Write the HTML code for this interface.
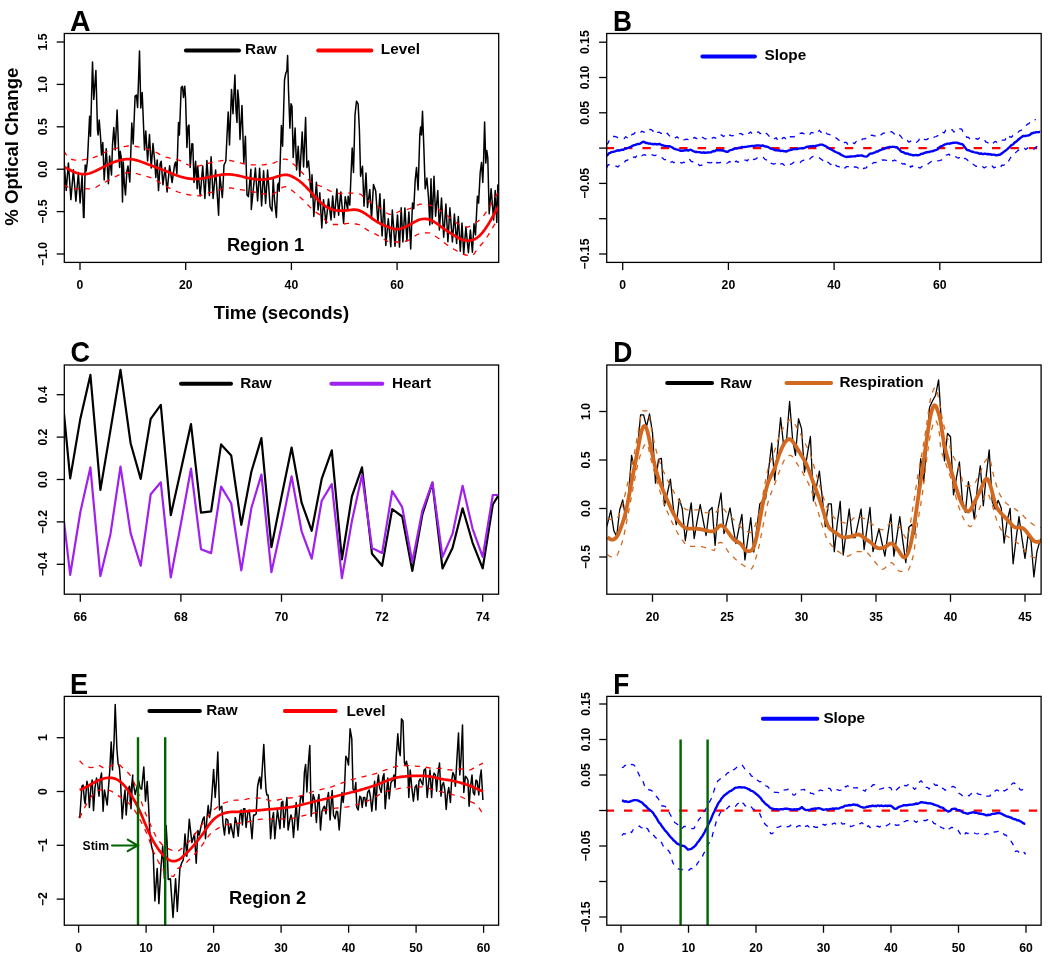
<!DOCTYPE html>
<html><head><meta charset="utf-8"><style>html,body{margin:0;padding:0;background:#fff;}svg{display:block;will-change:transform;}</style></head>
<body><svg width="1050" height="959" viewBox="0 0 1050 959" font-family='"Liberation Sans", sans-serif'><defs><clipPath id="cA"><rect x="64.3" y="33.5" width="434.40" height="228.90"/></clipPath><clipPath id="cB"><rect x="606.7" y="33.5" width="434.50" height="228.90"/></clipPath><clipPath id="cC"><rect x="64.3" y="365.0" width="434.30" height="229.20"/></clipPath><clipPath id="cD"><rect x="606.8" y="365.0" width="434.30" height="229.20"/></clipPath><clipPath id="cE"><rect x="64.3" y="696.4" width="434.30" height="228.80"/></clipPath><clipPath id="cF"><rect x="606.8" y="696.4" width="434.30" height="228.80"/></clipPath></defs>
<g clip-path="url(#cA)">
<polyline points="60.0,162.6 62.5,193.9 64.2,162.7 66.2,190.4 68.4,162.9 70.9,199.6 73.4,169.7 75.9,201.3 78.4,172.5 80.1,203.0 82.1,175.2 83.5,217.6 84.0,217.5 85.2,165.0 86.2,171.0 87.5,160.0 89.6,116.3 90.5,136.3 92.5,61.9 93.8,99.4 95.9,70.6 97.5,130.0 98.1,135.0 99.2,120.0 100.5,136.3 101.5,155.0 102.8,142.5 104.2,180.0 106.2,148.8 108.4,183.8 109.6,156.0 111.5,175.0 112.5,145.0 113.8,127.5 115.2,150.0 117.1,110.0 118.8,155.0 119.6,167.5 120.2,151.3 121.5,158.8 122.5,201.9 123.3,162.0 124.3,183.0 125.5,195.0 126.8,172.0 128.0,166.0 129.8,182.0 131.8,123.0 133.2,144.0 135.1,96.0 136.4,95.0 137.6,107.5 139.5,51.0 140.8,108.0 142.2,92.5 143.5,125.0 144.5,150.0 145.8,131.0 147.6,161.0 149.5,134.5 151.2,168.0 153.0,143.5 154.8,162.5 155.8,177.5 157.2,160.0 158.5,190.6 160.1,163.8 161.2,161.2 162.9,184.8 165.1,167.6 167.1,191.9 169.6,165.8 172.1,182.6 174.6,164.7 175.6,161.9 176.9,173.8 178.5,122.5 179.4,135.0 181.2,87.5 182.5,86.2 183.5,97.5 184.8,86.2 185.6,99.0 186.9,147.5 188.1,126.2 189.0,125.0 190.2,167.5 191.9,143.8 192.8,144.0 194.0,182.5 195.6,161.2 197.2,188.8 197.7,166.4 200.2,196.0 202.7,165.9 204.9,198.4 206.9,160.6 209.4,195.4 211.1,156.8 213.1,198.5 215.6,169.9 218.6,215.3 219.8,174.8 222.3,197.6 222.8,190.0 224.0,165.0 225.8,161.2 227.0,136.0 228.2,111.9 229.5,145.0 231.5,89.4 233.0,113.8 234.9,75.0 236.0,110.0 237.0,122.5 237.8,90.0 238.8,101.0 240.0,139.4 242.0,105.6 243.8,163.1 245.4,136.2 247.0,195.0 248.4,196.6 250.9,169.3 251.3,209.6 255.4,168.0 257.6,201.0 259.6,168.2 261.6,205.9 263.6,170.7 265.6,203.5 267.6,170.1 270.1,206.6 272.0,211.0 273.2,178.8 274.5,200.0 276.4,217.5 277.6,185.0 278.5,183.0 279.2,191.2 281.4,125.6 282.6,146.2 284.5,80.0 285.8,73.1 286.8,71.0 287.6,55.6 288.5,90.0 289.9,128.1 291.0,103.8 292.0,106.2 293.2,157.5 295.1,128.1 296.6,170.0 298.2,146.2 299.8,176.2 302.2,132.0 303.6,167.0 305.6,117.5 306.9,167.5 308.5,161.0 309.5,172.5 311.0,197.5 312.0,174.8 313.8,216.4 316.4,182.2 318.1,210.0 319.8,192.8 321.8,227.9 323.5,199.8 326.0,223.5 328.5,198.9 331.0,219.9 332.7,195.9 334.4,217.5 336.9,188.9 338.6,215.2 340.8,191.9 343.6,223.3 345.2,196.8 347.7,210.2 348.1,196.2 349.8,205.0 351.0,175.0 352.2,148.1 353.5,172.5 355.0,115.0 356.5,101.2 358.1,103.8 359.4,130.0 360.6,176.2 362.5,166.2 364.0,206.2 366.0,173.1 367.5,207.5 369.8,189.4 371.5,218.8 373.5,184.4 375.7,191.0 377.9,222.8 379.9,193.8 382.1,236.0 384.1,199.4 385.8,245.4 388.3,218.7 390.8,246.7 392.3,209.9 395.0,246.2 397.5,214.9 399.5,247.1 401.2,207.7 402.9,241.9 404.9,207.9 406.9,241.0 408.9,212.0 410.7,248.9 412.5,203.1 413.8,208.8 415.2,180.0 416.5,167.5 418.1,190.0 419.8,135.0 420.6,126.9 421.5,135.0 422.5,111.2 423.8,146.0 425.2,188.8 426.9,178.1 428.5,197.5 429.8,225.0 431.0,178.8 432.2,223.8 434.0,176.2 435.6,216.2 437.8,190.6 439.4,230.0 441.5,198.1 443.7,237.3 445.9,203.9 447.9,241.8 449.9,207.8 452.4,241.9 454.4,214.0 456.6,243.5 458.3,216.5 460.3,251.2 462.0,223.0 463.7,253.9 465.9,227.3 468.4,252.8 470.4,230.0 472.4,252.3 474.0,223.8 475.5,235.0 477.4,196.2 478.6,203.1 480.2,172.5 481.5,162.5 482.8,182.5 483.6,160.0 484.6,121.9 485.8,163.1 486.8,150.6 487.8,158.0 489.2,213.8 491.1,188.8 492.3,203.0 493.6,220.0 495.2,190.6 496.8,222.5 497.8,185.0 499.0,190.0 499.4,187.1" fill="none" stroke="#000" stroke-width="1.5" stroke-linejoin="round"/>
<polyline points="64.0,151.1 66.0,154.3 68.0,157.0 70.0,158.8 72.0,159.5 74.0,159.9 76.0,160.2 78.0,160.3 80.0,160.2 82.0,160.0 84.0,159.7 86.0,159.3 88.0,159.0 90.0,158.5 92.0,157.9 94.0,157.3 96.0,156.6 98.0,155.9 100.0,155.0 102.0,154.0 104.0,152.8 106.0,151.7 108.0,150.7 110.0,149.9 112.0,149.3 114.0,148.8 116.0,148.3 118.0,147.9 120.0,147.5 122.0,147.1 124.0,146.7 126.0,146.3 128.0,146.0 130.0,145.9 132.0,145.9 134.0,146.1 136.0,146.5 138.0,146.9 140.0,147.3 142.0,147.7 144.0,148.2 146.0,148.7 148.0,149.3 150.0,149.9 152.0,150.6 154.0,151.4 156.0,152.3 158.0,153.4 160.0,154.6 162.0,155.7 164.0,156.6 166.0,157.2 168.0,157.7 170.0,158.2 172.0,158.6 174.0,159.0 176.0,159.4 178.0,159.9 180.0,160.6 182.0,161.7 184.0,162.9 186.0,164.0 188.0,164.8 190.0,165.2 192.0,165.6 194.0,165.8 196.0,166.0 198.0,166.0 200.0,165.7 202.0,165.2 204.0,164.5 206.0,163.9 208.0,163.4 210.0,162.8 212.0,162.3 214.0,161.8 216.0,161.4 218.0,161.1 220.0,160.9 222.0,160.6 224.0,160.4 226.0,160.3 228.0,160.3 230.0,160.5 232.0,160.9 234.0,161.4 236.0,161.9 238.0,162.4 240.0,162.9 242.0,163.4 244.0,163.9 246.0,164.4 248.0,164.7 250.0,164.9 252.0,164.9 254.0,164.9 256.0,164.9 258.0,164.9 260.0,164.9 262.0,164.9 264.0,164.8 266.0,164.5 268.0,164.2 270.0,163.9 272.0,163.5 274.0,162.8 276.0,162.0 278.0,161.1 280.0,160.3 282.0,159.6 284.0,159.2 286.0,159.2 288.0,160.0 290.0,161.3 292.0,163.0 294.0,164.6 296.0,166.3 298.0,168.2 300.0,170.4 302.0,172.5 304.0,174.6 306.0,176.8 308.0,179.1 310.0,181.2 312.0,182.8 314.0,183.9 316.0,184.7 318.0,185.3 320.0,186.0 322.0,186.7 324.0,187.7 326.0,188.8 328.0,189.9 330.0,190.9 332.0,191.6 334.0,192.3 336.0,192.9 338.0,193.3 340.0,193.5 342.0,193.5 344.0,193.4 346.0,193.2 348.0,193.1 350.0,193.1 352.0,193.1 354.0,193.2 356.0,193.3 358.0,193.5 360.0,194.0 362.0,195.3 364.0,197.2 366.0,199.1 368.0,200.6 370.0,201.9 372.0,203.2 374.0,204.4 376.0,205.6 378.0,206.9 380.0,208.3 382.0,209.9 384.0,211.4 386.0,212.7 388.0,213.8 390.0,214.4 392.0,214.4 394.0,213.9 396.0,213.0 398.0,212.0 400.0,211.1 402.0,210.6 404.0,210.1 406.0,209.7 408.0,209.2 410.0,208.6 412.0,207.7 414.0,206.7 416.0,205.6 418.0,204.8 420.0,204.2 422.0,204.2 424.0,204.3 426.0,204.5 428.0,204.9 430.0,205.2 432.0,205.8 434.0,206.7 436.0,207.8 438.0,209.0 440.0,210.3 442.0,211.6 444.0,213.2 446.0,214.8 448.0,216.3 450.0,217.9 452.0,219.5 454.0,221.2 456.0,222.6 458.0,223.8 460.0,224.8 462.0,225.8 464.0,226.6 466.0,227.0 468.0,227.0 470.0,226.1 472.0,224.8 474.0,223.6 476.0,222.4 478.0,221.2 480.0,219.7 482.0,217.8 484.0,215.2 486.0,212.3 488.0,209.3 490.0,206.1 492.0,202.7 494.0,199.2 496.0,195.9 498.0,192.5 500.0,189.2 501.4,186.9" fill="none" stroke="#f00" stroke-width="1.3" stroke-linejoin="round" stroke-dasharray="5.2,5.8"/>
<polyline points="64.0,184.4 66.0,185.9 68.0,187.2 70.0,188.2 72.0,188.8 74.0,188.9 76.0,188.8 78.0,188.7 80.0,188.6 82.0,188.5 84.0,188.5 86.0,188.6 88.0,188.8 90.0,188.9 92.0,188.9 94.0,188.4 96.0,187.3 98.0,186.0 100.0,184.7 102.0,183.7 104.0,182.7 106.0,181.7 108.0,180.7 110.0,179.7 112.0,178.6 114.0,177.5 116.0,176.3 118.0,175.3 120.0,174.4 122.0,173.9 124.0,173.4 126.0,172.9 128.0,172.6 130.0,172.5 132.0,172.5 134.0,172.9 136.0,173.4 138.0,174.0 140.0,174.6 142.0,175.2 144.0,175.7 146.0,176.3 148.0,176.8 150.0,177.4 152.0,178.1 154.0,178.9 156.0,180.0 158.0,181.4 160.0,182.8 162.0,184.1 164.0,185.2 166.0,186.3 168.0,187.4 170.0,188.4 172.0,189.4 174.0,190.4 176.0,191.2 178.0,192.0 180.0,192.6 182.0,193.2 184.0,193.8 186.0,194.2 188.0,194.6 190.0,195.0 192.0,195.3 194.0,195.6 196.0,195.8 198.0,195.8 200.0,195.5 202.0,195.0 204.0,194.3 206.0,193.7 208.0,193.2 210.0,192.7 212.0,192.2 214.0,191.7 216.0,191.2 218.0,190.5 220.0,189.7 222.0,189.0 224.0,188.3 226.0,187.9 228.0,187.8 230.0,188.0 232.0,188.2 234.0,188.6 236.0,188.9 238.0,189.3 240.0,189.6 242.0,189.9 244.0,190.2 246.0,190.5 248.0,190.9 250.0,191.2 252.0,191.6 254.0,192.0 256.0,192.4 258.0,192.9 260.0,193.3 262.0,193.6 264.0,193.9 266.0,194.2 268.0,194.5 270.0,194.7 272.0,194.5 274.0,193.7 276.0,192.3 278.0,190.7 280.0,189.0 282.0,187.7 284.0,186.8 286.0,186.7 288.0,187.5 290.0,188.9 292.0,190.5 294.0,192.1 296.0,193.7 298.0,195.3 300.0,197.1 302.0,199.0 304.0,200.9 306.0,202.9 308.0,205.0 310.0,207.1 312.0,209.0 314.0,210.7 316.0,212.2 318.0,213.6 320.0,215.0 322.0,216.6 324.0,218.6 326.0,220.9 328.0,223.0 330.0,224.3 332.0,224.5 334.0,224.5 336.0,224.5 338.0,224.5 340.0,224.5 342.0,224.3 344.0,224.0 346.0,223.7 348.0,223.4 350.0,223.3 352.0,223.4 354.0,223.7 356.0,224.0 358.0,224.4 360.0,225.0 362.0,226.2 364.0,227.6 366.0,229.1 368.0,230.4 370.0,231.4 372.0,232.4 374.0,233.4 376.0,234.4 378.0,235.4 380.0,236.6 382.0,238.0 384.0,239.3 386.0,240.5 388.0,241.4 390.0,241.9 392.0,242.0 394.0,242.0 396.0,242.0 398.0,242.0 400.0,242.0 402.0,241.9 404.0,241.5 406.0,241.0 408.0,240.3 410.0,239.5 412.0,238.3 414.0,236.8 416.0,235.3 418.0,234.2 420.0,233.7 422.0,233.4 424.0,233.1 426.0,232.9 428.0,232.8 430.0,233.2 432.0,234.2 434.0,235.4 436.0,236.7 438.0,238.0 440.0,239.4 442.0,241.0 444.0,242.6 446.0,244.1 448.0,245.5 450.0,246.8 452.0,248.0 454.0,249.2 456.0,250.4 458.0,251.5 460.0,252.7 462.0,253.7 464.0,254.5 466.0,255.0 468.0,255.4 470.0,255.7 472.0,255.7 474.0,254.1 476.0,251.2 478.0,248.3 480.0,246.0 482.0,243.8 484.0,241.4 486.0,238.7 488.0,235.5 490.0,232.0 492.0,228.6 494.0,225.4 496.0,222.3 498.0,219.3 500.0,216.4 501.4,214.5" fill="none" stroke="#f00" stroke-width="1.3" stroke-linejoin="round" stroke-dasharray="5.2,5.8"/>
<polyline points="64.0,167.1 65.0,167.5 66.0,167.9 67.0,168.4 68.0,168.9 69.0,169.4 70.0,170.0 71.0,170.5 72.0,171.0 73.0,171.5 74.0,171.9 75.0,172.3 76.0,172.7 77.0,173.0 78.0,173.3 79.0,173.6 80.0,173.8 81.0,174.0 82.0,174.1 83.0,174.2 84.0,174.2 85.0,174.2 86.0,174.1 87.0,173.9 88.0,173.7 89.0,173.5 90.0,173.2 91.0,172.8 92.0,172.5 93.0,172.1 94.0,171.6 95.0,171.2 96.0,170.7 97.0,170.2 98.0,169.7 99.0,169.2 100.0,168.7 101.0,168.2 102.0,167.7 103.0,167.1 104.0,166.6 105.0,166.1 106.0,165.6 107.0,165.2 108.0,164.7 109.0,164.2 110.0,163.8 111.0,163.3 112.0,162.9 113.0,162.5 114.0,162.1 115.0,161.7 116.0,161.4 117.0,161.1 118.0,160.8 119.0,160.5 120.0,160.2 121.0,160.0 122.0,159.8 123.0,159.6 124.0,159.4 125.0,159.3 126.0,159.2 127.0,159.1 128.0,159.1 129.0,159.1 130.0,159.1 131.0,159.2 132.0,159.3 133.0,159.5 134.0,159.6 135.0,159.9 136.0,160.1 137.0,160.4 138.0,160.7 139.0,161.0 140.0,161.3 141.0,161.7 142.0,162.0 143.0,162.4 144.0,162.8 145.0,163.1 146.0,163.5 147.0,163.9 148.0,164.3 149.0,164.7 150.0,165.0 151.0,165.4 152.0,165.8 153.0,166.2 154.0,166.6 155.0,166.9 156.0,167.3 157.0,167.7 158.0,168.1 159.0,168.4 160.0,168.8 161.0,169.2 162.0,169.6 163.0,170.0 164.0,170.3 165.0,170.7 166.0,171.1 167.0,171.5 168.0,171.9 169.0,172.4 170.0,172.8 171.0,173.2 172.0,173.6 173.0,174.0 174.0,174.4 175.0,174.8 176.0,175.1 177.0,175.5 178.0,175.8 179.0,176.2 180.0,176.5 181.0,176.8 182.0,177.1 183.0,177.3 184.0,177.6 185.0,177.8 186.0,178.1 187.0,178.2 188.0,178.4 189.0,178.6 190.0,178.7 191.0,178.8 192.0,178.9 193.0,179.0 194.0,179.0 195.0,179.1 196.0,179.1 197.0,179.0 198.0,179.0 199.0,178.9 200.0,178.8 201.0,178.6 202.0,178.5 203.0,178.3 204.0,178.2 205.0,178.0 206.0,177.8 207.0,177.6 208.0,177.4 209.0,177.2 210.0,176.9 211.0,176.7 212.0,176.5 213.0,176.3 214.0,176.1 215.0,175.9 216.0,175.7 217.0,175.5 218.0,175.3 219.0,175.1 220.0,175.0 221.0,174.8 222.0,174.7 223.0,174.6 224.0,174.5 225.0,174.4 226.0,174.3 227.0,174.3 228.0,174.3 229.0,174.3 230.0,174.4 231.0,174.5 232.0,174.6 233.0,174.7 234.0,174.9 235.0,175.0 236.0,175.2 237.0,175.4 238.0,175.6 239.0,175.8 240.0,176.1 241.0,176.3 242.0,176.5 243.0,176.8 244.0,177.1 245.0,177.3 246.0,177.6 247.0,177.8 248.0,178.0 249.0,178.2 250.0,178.4 251.0,178.6 252.0,178.8 253.0,178.9 254.0,179.1 255.0,179.2 256.0,179.3 257.0,179.4 258.0,179.5 259.0,179.5 260.0,179.6 261.0,179.6 262.0,179.6 263.0,179.5 264.0,179.5 265.0,179.4 266.0,179.3 267.0,179.1 268.0,179.0 269.0,178.8 270.0,178.6 271.0,178.4 272.0,178.1 273.0,177.9 274.0,177.6 275.0,177.3 276.0,176.9 277.0,176.6 278.0,176.3 279.0,176.0 280.0,175.7 281.0,175.4 282.0,175.2 283.0,175.0 284.0,174.9 285.0,174.8 286.0,174.8 287.0,174.9 288.0,175.1 289.0,175.3 290.0,175.6 291.0,176.0 292.0,176.5 293.0,177.0 294.0,177.5 295.0,178.1 296.0,178.7 297.0,179.3 298.0,180.0 299.0,180.7 300.0,181.5 301.0,182.3 302.0,183.1 303.0,184.0 304.0,185.0 305.0,185.9 306.0,186.9 307.0,188.0 308.0,189.0 309.0,190.1 310.0,191.2 311.0,192.3 312.0,193.4 313.0,194.5 314.0,195.6 315.0,196.7 316.0,197.7 317.0,198.8 318.0,199.8 319.0,200.8 320.0,201.8 321.0,202.7 322.0,203.6 323.0,204.4 324.0,205.2 325.0,205.9 326.0,206.6 327.0,207.2 328.0,207.8 329.0,208.3 330.0,208.7 331.0,209.1 332.0,209.5 333.0,209.8 334.0,210.0 335.0,210.2 336.0,210.4 337.0,210.5 338.0,210.6 339.0,210.6 340.0,210.6 341.0,210.7 342.0,210.6 343.0,210.6 344.0,210.6 345.0,210.5 346.0,210.4 347.0,210.3 348.0,210.2 349.0,210.1 350.0,210.0 351.0,209.9 352.0,209.8 353.0,209.7 354.0,209.7 355.0,209.7 356.0,209.8 357.0,209.9 358.0,210.1 359.0,210.4 360.0,210.8 361.0,211.2 362.0,211.7 363.0,212.2 364.0,212.8 365.0,213.4 366.0,214.1 367.0,214.8 368.0,215.5 369.0,216.2 370.0,216.9 371.0,217.7 372.0,218.4 373.0,219.1 374.0,219.8 375.0,220.5 376.0,221.1 377.0,221.8 378.0,222.4 379.0,222.9 380.0,223.5 381.0,224.0 382.0,224.4 383.0,224.9 384.0,225.3 385.0,225.7 386.0,226.1 387.0,226.5 388.0,226.9 389.0,227.3 390.0,227.7 391.0,228.1 392.0,228.4 393.0,228.7 394.0,228.9 395.0,229.1 396.0,229.2 397.0,229.2 398.0,229.1 399.0,229.0 400.0,228.8 401.0,228.5 402.0,228.2 403.0,227.9 404.0,227.5 405.0,227.1 406.0,226.6 407.0,226.1 408.0,225.6 409.0,225.1 410.0,224.5 411.0,224.0 412.0,223.4 413.0,222.8 414.0,222.3 415.0,221.7 416.0,221.2 417.0,220.7 418.0,220.2 419.0,219.8 420.0,219.5 421.0,219.3 422.0,219.1 423.0,219.0 424.0,218.9 425.0,218.9 426.0,218.9 427.0,219.1 428.0,219.2 429.0,219.5 430.0,219.8 431.0,220.2 432.0,220.7 433.0,221.2 434.0,221.7 435.0,222.4 436.0,223.0 437.0,223.7 438.0,224.4 439.0,225.1 440.0,225.8 441.0,226.6 442.0,227.3 443.0,228.0 444.0,228.8 445.0,229.5 446.0,230.2 447.0,230.9 448.0,231.6 449.0,232.2 450.0,232.9 451.0,233.5 452.0,234.2 453.0,234.8 454.0,235.4 455.0,236.0 456.0,236.6 457.0,237.2 458.0,237.7 459.0,238.3 460.0,238.8 461.0,239.2 462.0,239.6 463.0,239.9 464.0,240.2 465.0,240.4 466.0,240.5 467.0,240.6 468.0,240.6 469.0,240.6 470.0,240.5 471.0,240.3 472.0,240.1 473.0,239.8 474.0,239.4 475.0,239.0 476.0,238.4 477.0,237.8 478.0,237.0 479.0,236.2 480.0,235.2 481.0,234.2 482.0,233.1 483.0,231.9 484.0,230.6 485.0,229.3 486.0,227.8 487.0,226.3 488.0,224.8 489.0,223.1 490.0,221.4 491.0,219.7 492.0,217.9 493.0,216.1 494.0,214.3 495.0,212.5 496.0,210.7 497.0,209.1 498.0,207.5 499.0,206.1 500.0,204.9 501.0,203.8 501.4,203.0" fill="none" stroke="#f00" stroke-width="2.7" stroke-linejoin="round"/>
</g>
<g clip-path="url(#cB)">
<polyline points="605.6,148.1 1045.0,148.1" fill="none" stroke="#f00" stroke-width="2.3" stroke-linejoin="round" stroke-dasharray="8.4,10"/>
<polyline points="606.6,144.8 608.2,142.9 609.8,138.6 611.4,137.6 613.0,136.5 614.6,136.4 616.2,136.9 617.8,137.6 619.4,138.0 621.0,138.5 622.6,138.2 624.2,138.6 625.8,136.7 627.4,137.7 629.0,134.7 630.6,135.7 632.2,134.4 633.8,134.0 635.4,132.2 637.0,131.8 638.6,132.9 640.2,133.0 641.8,131.1 643.4,132.0 645.0,132.3 646.6,132.2 648.2,129.9 649.8,129.5 651.4,129.6 653.0,131.2 654.6,129.1 656.2,130.2 657.8,132.3 659.4,132.2 661.0,133.4 662.6,132.9 664.2,134.3 665.8,135.0 667.4,133.2 669.0,135.5 670.6,136.6 672.2,136.5 673.8,135.9 675.4,137.9 677.0,136.7 678.6,138.2 680.2,140.1 681.8,139.2 683.4,139.8 685.0,139.7 686.6,139.1 688.2,139.6 689.8,137.7 691.4,137.9 693.0,138.5 694.6,137.3 696.2,138.7 697.8,137.6 699.4,138.7 701.0,139.0 702.6,137.4 704.2,138.3 705.8,139.0 707.4,138.1 709.0,137.0 710.6,138.0 712.2,138.1 713.8,137.4 715.4,138.3 717.0,137.1 718.6,137.6 720.2,135.3 721.8,135.0 723.4,136.6 725.0,135.4 726.6,134.7 728.2,136.5 729.8,134.9 731.4,135.8 733.0,135.6 734.6,135.8 736.2,135.0 737.8,135.1 739.4,133.8 741.0,133.4 742.6,134.8 744.2,133.4 745.8,134.6 747.4,133.6 749.0,133.3 750.6,131.9 752.2,133.9 753.8,132.5 755.4,132.8 757.0,132.3 758.6,131.9 760.2,133.7 761.8,133.0 763.4,131.6 765.0,133.4 766.6,133.5 768.2,135.1 769.8,137.2 771.4,136.6 773.0,138.7 774.6,138.7 776.2,137.7 777.8,140.5 779.4,140.1 781.0,140.7 782.6,138.1 784.2,137.4 785.8,138.8 787.4,137.5 789.0,135.5 790.6,136.9 792.2,136.7 793.8,136.8 795.4,136.0 797.0,134.2 798.6,133.7 800.2,133.4 801.8,133.0 803.4,133.3 805.0,134.7 806.6,133.7 808.2,133.7 809.8,134.4 811.4,132.4 813.0,132.8 814.6,133.5 816.2,134.0 817.8,132.2 819.4,130.3 821.0,132.3 822.6,131.0 824.2,132.9 825.8,132.3 827.4,134.1 829.0,134.4 830.6,134.8 832.2,135.0 833.8,136.1 835.4,137.5 837.0,138.6 838.6,140.0 840.2,141.4 841.8,143.4 843.4,143.3 845.0,142.2 846.6,142.6 848.2,145.1 849.8,144.1 851.4,143.1 853.0,142.9 854.6,143.6 856.2,141.4 857.8,141.6 859.4,141.9 861.0,141.0 862.6,138.8 864.2,138.8 865.8,138.5 867.4,138.5 869.0,136.3 870.6,135.5 872.2,135.2 873.8,135.9 875.4,135.9 877.0,135.4 878.6,134.3 880.2,135.6 881.8,134.1 883.4,133.1 885.0,133.2 886.6,133.5 888.2,133.1 889.8,132.0 891.4,131.6 893.0,132.8 894.6,134.2 896.2,133.8 897.8,135.9 899.4,135.0 901.0,136.5 902.6,138.9 904.2,138.2 905.8,140.1 907.4,140.5 909.0,142.2 910.6,141.1 912.2,141.1 913.8,143.0 915.4,142.8 917.0,142.0 918.6,140.6 920.2,137.3 921.8,137.8 923.4,138.8 925.0,139.6 926.6,139.6 928.2,138.6 929.8,139.6 931.4,138.6 933.0,137.4 934.6,137.0 936.2,136.5 937.8,135.6 939.4,135.8 941.0,134.7 942.6,132.3 944.2,132.9 945.8,130.1 947.4,129.8 949.0,129.9 950.6,130.8 952.2,129.6 953.8,132.0 955.4,131.4 957.0,128.8 958.6,128.7 960.2,128.8 961.8,129.2 963.4,133.0 965.0,134.1 966.6,137.3 968.2,137.2 969.8,138.7 971.4,139.1 973.0,139.5 974.6,138.4 976.2,138.6 977.8,139.3 979.4,137.9 981.0,138.6 982.6,139.7 984.2,139.3 985.8,142.0 987.4,142.4 989.0,143.7 990.6,142.3 992.2,143.7 993.8,142.6 995.4,141.3 997.0,142.6 998.6,141.8 1000.2,139.9 1001.8,140.2 1003.4,140.2 1005.0,140.1 1006.6,137.0 1008.2,138.8 1009.8,136.5 1011.4,137.3 1013.0,135.5 1014.6,135.2 1016.2,133.6 1017.8,132.7 1019.4,130.8 1021.0,130.4 1022.6,129.4 1024.2,127.9 1025.8,125.9 1027.4,124.2 1029.0,123.6 1030.6,121.3 1032.2,121.4 1033.8,120.2 1035.4,119.6 1035.8,119.6" fill="none" stroke="#0000ff" stroke-width="1.3" stroke-linejoin="round" stroke-dasharray="5.2,5.8"/>
<polyline points="606.6,167.9 608.2,164.6 609.8,164.9 611.4,164.9 613.0,165.6 614.6,166.1 616.2,166.2 617.8,167.0 619.4,165.4 621.0,164.2 622.6,163.9 624.2,162.6 625.8,160.5 627.4,160.3 629.0,158.2 630.6,158.8 632.2,158.2 633.8,156.9 635.4,157.6 637.0,155.4 638.6,156.3 640.2,155.0 641.8,155.8 643.4,154.8 645.0,154.7 646.6,155.8 648.2,154.7 649.8,154.3 651.4,154.6 653.0,155.1 654.6,155.6 656.2,155.1 657.8,156.5 659.4,156.7 661.0,157.5 662.6,158.0 664.2,159.6 665.8,159.7 667.4,159.2 669.0,161.1 670.6,162.3 672.2,161.5 673.8,162.8 675.4,161.6 677.0,162.4 678.6,162.3 680.2,162.4 681.8,163.2 683.4,162.2 685.0,162.6 686.6,160.9 688.2,159.1 689.8,159.6 691.4,161.5 693.0,161.8 694.6,162.3 696.2,163.7 697.8,163.2 699.4,165.5 701.0,165.3 702.6,164.7 704.2,164.0 705.8,164.3 707.4,162.5 709.0,162.6 710.6,162.9 712.2,162.3 713.8,161.4 715.4,163.9 717.0,162.5 718.6,162.8 720.2,162.5 721.8,162.4 723.4,162.7 725.0,163.8 726.6,163.5 728.2,162.5 729.8,161.4 731.4,163.4 733.0,161.8 734.6,162.5 736.2,160.9 737.8,162.3 739.4,161.3 741.0,161.3 742.6,160.7 744.2,160.1 745.8,160.1 747.4,160.8 749.0,158.3 750.6,158.6 752.2,157.8 753.8,159.5 755.4,159.2 757.0,157.9 758.6,158.3 760.2,158.8 761.8,158.7 763.4,157.4 765.0,159.3 766.6,160.0 768.2,159.7 769.8,163.0 771.4,163.4 773.0,164.0 774.6,163.8 776.2,163.3 777.8,165.3 779.4,164.6 781.0,163.9 782.6,163.6 784.2,165.2 785.8,163.7 787.4,163.9 789.0,163.9 790.6,164.3 792.2,163.6 793.8,162.2 795.4,163.1 797.0,162.6 798.6,162.4 800.2,162.5 801.8,160.9 803.4,160.3 805.0,159.7 806.6,159.6 808.2,158.2 809.8,159.0 811.4,157.4 813.0,156.5 814.6,156.0 816.2,156.7 817.8,157.0 819.4,157.9 821.0,159.1 822.6,160.2 824.2,161.8 825.8,163.2 827.4,161.8 829.0,163.0 830.6,164.6 832.2,163.8 833.8,166.0 835.4,164.6 837.0,166.4 838.6,166.5 840.2,167.3 841.8,165.7 843.4,166.6 845.0,168.0 846.6,166.6 848.2,166.6 849.8,167.5 851.4,168.2 853.0,166.9 854.6,167.0 856.2,167.0 857.8,167.9 859.4,168.7 861.0,167.5 862.6,169.2 864.2,168.1 865.8,168.1 867.4,166.4 869.0,166.1 870.6,165.9 872.2,163.7 873.8,162.5 875.4,162.7 877.0,162.3 878.6,162.1 880.2,161.8 881.8,160.2 883.4,160.0 885.0,160.2 886.6,160.4 888.2,160.2 889.8,160.0 891.4,159.4 893.0,161.0 894.6,160.0 896.2,161.0 897.8,162.4 899.4,163.2 901.0,162.5 902.6,164.1 904.2,163.6 905.8,164.7 907.4,163.4 909.0,164.1 910.6,167.2 912.2,165.8 913.8,168.0 915.4,167.4 917.0,167.2 918.6,167.4 920.2,168.1 921.8,166.5 923.4,166.8 925.0,165.7 926.6,164.5 928.2,163.9 929.8,162.6 931.4,161.4 933.0,161.9 934.6,161.7 936.2,161.9 937.8,160.8 939.4,160.6 941.0,160.2 942.6,159.3 944.2,157.9 945.8,155.1 947.4,154.9 949.0,154.2 950.6,155.9 952.2,156.0 953.8,155.3 955.4,156.4 957.0,157.6 958.6,158.1 960.2,157.0 961.8,158.9 963.4,159.6 965.0,158.3 966.6,159.2 968.2,160.8 969.8,161.1 971.4,163.7 973.0,164.2 974.6,165.2 976.2,166.4 977.8,166.1 979.4,166.2 981.0,167.3 982.6,166.6 984.2,167.9 985.8,167.0 987.4,166.2 989.0,167.4 990.6,166.3 992.2,166.0 993.8,167.8 995.4,167.2 997.0,166.8 998.6,167.8 1000.2,167.9 1001.8,165.1 1003.4,165.4 1005.0,164.2 1006.6,161.3 1008.2,161.7 1009.8,159.0 1011.4,156.3 1013.0,155.7 1014.6,153.6 1016.2,152.1 1017.8,150.6 1019.4,149.8 1021.0,149.5 1022.6,149.5 1024.2,147.9 1025.8,149.6 1027.4,148.0 1029.0,148.1 1030.6,149.5 1032.2,149.7 1033.8,149.4 1035.4,147.7 1037.0,146.1 1038.6,143.9 1039.1,144.8" fill="none" stroke="#0000ff" stroke-width="1.3" stroke-linejoin="round" stroke-dasharray="5.2,5.8"/>
<polyline points="606.6,155.8 607.8,154.8 609.0,153.1 610.2,152.9 611.4,152.1 612.6,151.9 613.8,151.7 615.0,151.3 616.2,150.9 617.4,150.5 618.6,150.3 619.8,150.5 621.0,150.0 622.2,149.6 623.4,149.7 624.6,148.9 625.8,148.6 627.0,148.1 628.2,147.9 629.4,147.4 630.6,146.9 631.8,146.2 633.0,145.7 634.2,145.2 635.4,144.8 636.6,144.3 637.8,143.9 639.0,144.1 640.2,143.7 641.4,142.7 642.6,142.0 643.8,141.8 645.0,142.4 646.2,143.1 647.4,143.0 648.6,143.6 649.8,143.4 651.0,143.9 652.2,144.0 653.4,144.3 654.6,143.8 655.8,144.2 657.0,144.2 658.2,144.3 659.4,143.8 660.6,144.5 661.8,145.3 663.0,145.3 664.2,145.9 665.4,145.9 666.6,146.3 667.8,146.3 669.0,146.2 670.2,146.5 671.4,147.0 672.6,147.6 673.8,148.6 675.0,148.9 676.2,149.4 677.4,149.6 678.6,150.0 679.8,150.5 681.0,150.7 682.2,150.8 683.4,150.8 684.6,150.2 685.8,150.4 687.0,150.2 688.2,150.5 689.4,150.1 690.6,149.7 691.8,150.3 693.0,151.1 694.2,151.4 695.4,152.0 696.6,151.8 697.8,152.1 699.0,152.1 700.2,152.3 701.4,152.6 702.6,152.7 703.8,152.3 705.0,152.9 706.2,152.6 707.4,152.4 708.6,152.5 709.8,152.4 711.0,152.4 712.2,151.6 713.4,151.0 714.6,151.3 715.8,150.3 717.0,150.2 718.2,150.3 719.4,150.1 720.6,150.2 721.8,150.6 723.0,150.2 724.2,151.0 725.4,151.3 726.6,151.9 727.8,151.7 729.0,150.8 730.2,150.2 731.4,149.9 732.6,149.6 733.8,148.9 735.0,148.5 736.2,148.6 737.4,148.3 738.6,147.8 739.8,147.9 741.0,147.3 742.2,147.0 743.4,147.1 744.6,147.0 745.8,146.9 747.0,146.7 748.2,146.4 749.4,146.3 750.6,146.1 751.8,146.0 753.0,146.0 754.2,146.1 755.4,145.6 756.6,145.4 757.8,145.5 759.0,145.5 760.2,145.6 761.4,145.9 762.6,145.4 763.8,145.9 765.0,146.5 766.2,146.5 767.4,146.8 768.6,147.4 769.8,147.9 771.0,148.9 772.2,148.9 773.4,149.3 774.6,150.0 775.8,150.2 777.0,150.2 778.2,150.6 779.4,150.2 780.6,151.0 781.8,150.9 783.0,150.8 784.2,151.3 785.4,151.3 786.6,151.5 787.8,150.6 789.0,150.5 790.2,150.0 791.4,149.8 792.6,149.3 793.8,148.9 795.0,149.1 796.2,148.8 797.4,149.0 798.6,148.6 799.8,148.4 801.0,148.4 802.2,148.2 803.4,148.3 804.6,147.9 805.8,147.3 807.0,146.7 808.2,146.6 809.4,146.4 810.6,146.3 811.8,146.5 813.0,145.9 814.2,146.1 815.4,146.0 816.6,145.7 817.8,145.4 819.0,145.1 820.2,144.6 821.4,144.6 822.6,144.8 823.8,145.4 825.0,145.8 826.2,146.5 827.4,147.3 828.6,147.9 829.8,148.9 831.0,149.3 832.2,150.0 833.4,150.7 834.6,151.4 835.8,152.0 837.0,152.5 838.2,153.1 839.4,153.5 840.6,154.5 841.8,155.1 843.0,155.7 844.2,156.3 845.4,156.7 846.6,157.0 847.8,156.7 849.0,156.7 850.2,156.5 851.4,156.5 852.6,156.4 853.8,156.4 855.0,156.3 856.2,156.0 857.4,155.5 858.6,155.8 859.8,155.6 861.0,155.4 862.2,155.5 863.4,156.1 864.6,156.4 865.8,156.6 867.0,156.3 868.2,155.3 869.4,154.1 870.6,153.5 871.8,153.6 873.0,153.2 874.2,152.7 875.4,152.3 876.6,151.5 877.8,151.5 879.0,150.6 880.2,150.1 881.4,149.8 882.6,149.0 883.8,149.1 885.0,148.2 886.2,148.0 887.4,147.4 888.6,147.2 889.8,146.9 891.0,147.1 892.2,146.8 893.4,146.9 894.6,146.9 895.8,147.3 897.0,147.2 898.2,148.6 899.4,149.6 900.6,151.1 901.8,151.9 903.0,152.2 904.2,152.7 905.4,153.5 906.6,153.5 907.8,153.6 909.0,154.4 910.2,154.5 911.4,154.8 912.6,155.2 913.8,155.3 915.0,155.1 916.2,155.0 917.4,155.3 918.6,155.1 919.8,154.8 921.0,153.9 922.2,153.7 923.4,153.6 924.6,152.8 925.8,152.5 927.0,152.2 928.2,152.0 929.4,152.0 930.6,151.4 931.8,151.4 933.0,151.0 934.2,150.6 935.4,150.2 936.6,149.8 937.8,149.2 939.0,147.7 940.2,146.7 941.4,146.1 942.6,145.8 943.8,145.0 945.0,144.4 946.2,144.1 947.4,143.6 948.6,143.6 949.8,143.7 951.0,143.2 952.2,143.1 953.4,142.6 954.6,142.7 955.8,142.6 957.0,142.6 958.2,143.3 959.4,143.5 960.6,144.0 961.8,143.9 963.0,144.7 964.2,146.5 965.4,147.9 966.6,149.6 967.8,150.3 969.0,150.2 970.2,151.0 971.4,151.5 972.6,151.7 973.8,152.1 975.0,152.4 976.2,152.6 977.4,152.7 978.6,153.4 979.8,153.8 981.0,153.3 982.2,154.1 983.4,154.0 984.6,153.7 985.8,153.8 987.0,154.2 988.2,154.0 989.4,154.2 990.6,154.3 991.8,154.9 993.0,154.6 994.2,154.6 995.4,155.1 996.6,155.2 997.8,155.1 999.0,154.6 1000.2,154.7 1001.4,153.6 1002.6,152.9 1003.8,151.9 1005.0,151.0 1006.2,150.1 1007.4,149.1 1008.6,147.9 1009.8,146.8 1011.0,145.5 1012.2,144.7 1013.4,144.1 1014.6,142.6 1015.8,141.9 1017.0,141.0 1018.2,139.6 1019.4,138.9 1020.6,137.7 1021.8,137.0 1023.0,135.9 1024.2,136.0 1025.4,136.0 1026.6,135.6 1027.8,135.5 1029.0,135.3 1030.2,134.6 1031.4,133.4 1032.6,133.2 1033.8,132.6 1035.0,132.6 1036.2,132.1 1037.4,132.1 1038.6,132.2 1039.8,131.9 1040.2,132.0" fill="none" stroke="#0000ff" stroke-width="2.4" stroke-linejoin="round"/>
</g>
<g clip-path="url(#cC)">
<polyline points="60.2,374.2 70.2,478.4 80.3,418.9 90.4,374.9 100.4,489.9 110.5,429.9 120.5,369.8 130.6,443.2 140.7,478.9 150.7,418.9 160.8,404.8 170.8,515.2 180.9,470.0 191.0,424.0 201.0,512.7 211.1,511.4 221.1,444.4 231.2,455.4 241.3,524.9 251.3,472.0 261.4,438.1 271.4,547.2 281.5,496.8 291.6,447.5 301.6,502.7 311.7,530.8 321.7,478.9 331.8,450.3 341.9,559.4 351.9,496.3 362.0,467.4 372.0,553.8 382.1,565.8 392.2,509.1 402.2,516.5 412.3,570.9 422.3,514.7 432.4,482.8 442.5,568.4 452.5,547.9 462.6,508.3 472.6,542.8 482.7,568.4 492.8,504.5 502.8,488.4" fill="none" stroke="#000" stroke-width="2.2" stroke-linejoin="round"/>
<polyline points="60.2,488.9 70.2,574.8 80.3,512.2 90.4,467.4 100.4,576.1 110.5,533.9 120.5,466.7 130.6,533.1 140.7,565.8 150.7,494.3 160.8,482.3 170.8,577.3 180.9,523.7 191.0,468.7 201.0,549.2 211.1,553.1 221.1,486.6 231.2,503.2 241.3,570.4 251.3,508.3 261.4,474.6 271.4,572.2 281.5,526.2 291.6,476.4 301.6,531.3 311.7,558.7 321.7,500.7 331.8,484.1 341.9,578.1 351.9,521.1 362.0,475.1 372.0,547.9 382.1,553.1 392.2,491.2 402.2,507.1 412.3,562.0 422.3,510.9 432.4,482.3 442.5,556.9 452.5,533.9 462.6,485.8 472.6,528.8 482.7,556.9 492.8,495.0 502.8,495.0" fill="none" stroke="#a020f0" stroke-width="2.2" stroke-linejoin="round"/>
</g>
<g clip-path="url(#cD)">
<polyline points="604.8,532.6 607.8,522.7 610.8,510.4 613.8,530.6 616.7,536.5 619.7,509.8 622.7,499.9 625.7,518.7 628.7,493.0 631.6,455.3 634.6,470.2 637.6,447.4 640.6,414.8 643.6,414.8 646.5,426.6 649.5,413.8 652.5,432.6 655.5,483.1 658.5,459.3 661.4,458.3 664.4,505.8 667.4,493.0 670.4,479.1 673.4,508.8 676.3,524.7 679.3,498.9 682.3,508.8 685.3,540.5 688.3,520.7 691.2,502.9 694.2,538.5 697.2,520.7 700.2,504.5 703.2,520.7 706.1,535.5 709.1,510.8 712.1,507.4 715.1,545.4 718.1,508.8 721.0,493.0 724.0,533.6 727.0,520.7 730.0,507.8 733.0,526.6 735.9,543.5 738.9,528.6 741.9,514.4 744.9,559.9 747.9,538.5 750.8,517.7 753.8,552.0 756.8,528.6 759.8,503.9 762.8,500.9 765.7,498.5 768.7,469.2 771.7,443.1 774.7,480.1 777.7,449.4 780.6,417.7 783.6,445.4 786.6,439.5 789.6,401.5 792.6,439.5 795.5,455.3 798.5,418.7 801.5,428.6 804.5,472.2 807.5,453.4 810.4,436.5 813.4,500.9 816.4,487.0 819.4,471.2 822.4,498.9 825.3,526.6 828.3,503.9 831.3,503.9 834.3,551.7 837.3,523.3 840.2,501.4 843.2,555.0 846.2,532.0 849.2,509.0 852.2,537.5 855.1,537.5 858.1,523.3 861.1,509.0 864.1,549.5 867.1,527.7 870.0,507.5 873.0,551.7 876.0,540.8 879.0,528.7 882.0,543.0 884.9,556.1 887.9,534.2 890.9,514.1 893.9,556.1 896.9,536.4 899.8,516.7 902.8,540.8 905.8,562.7 908.8,527.2 911.8,524.4 914.7,534.2 917.7,497.0 920.7,458.7 923.7,481.7 926.7,444.4 929.6,407.2 932.6,400.7 935.6,395.2 938.6,379.9 941.6,424.7 944.5,460.9 947.5,433.5 950.5,436.8 953.5,494.8 956.5,477.3 959.4,462.0 962.4,500.3 965.4,512.3 968.4,481.7 971.4,499.2 974.3,518.9 977.3,488.2 980.3,465.9 983.3,505.8 986.3,475.1 989.2,449.9 992.2,501.4 995.2,509.0 998.2,500.3 1001.2,507.9 1004.1,543.0 1007.1,521.1 1010.1,508.4 1013.1,563.8 1016.1,538.6 1019.0,516.7 1022.0,538.6 1025.0,558.3 1028.0,535.3 1031.0,540.8 1033.9,576.9 1036.9,551.7 1039.9,540.8 1042.9,536.4" fill="none" stroke="#000" stroke-width="1.3" stroke-linejoin="round"/>
<polyline points="607.5,518.7 608.5,519.0 609.5,519.3 610.5,519.4 611.5,519.6 612.5,519.6 613.5,519.7 614.5,519.7 615.5,519.7 616.5,519.4 617.5,518.1 618.5,516.1 619.5,513.4 620.5,510.5 621.5,507.6 622.5,504.6 623.5,501.0 624.5,496.9 625.5,492.6 626.5,488.2 627.5,483.9 628.5,479.8 629.5,475.6 630.5,471.5 631.5,467.2 632.5,462.7 633.5,458.0 634.5,452.9 635.5,447.2 636.5,441.3 637.5,435.5 638.5,430.1 639.5,424.3 640.5,418.1 641.5,413.0 642.5,410.8 643.5,410.8 644.5,410.8 645.5,410.8 646.5,410.8 647.5,410.8 648.5,412.9 649.5,418.1 650.5,424.3 651.5,429.8 652.5,434.4 653.5,439.1 654.5,443.7 655.5,447.9 656.5,451.7 657.5,455.1 658.5,458.2 659.5,461.2 660.5,464.0 661.5,466.7 662.5,469.2 663.5,471.6 664.5,473.8 665.5,476.0 666.5,478.0 667.5,480.0 668.5,481.9 669.5,483.8 670.5,485.6 671.5,487.5 672.5,489.4 673.5,491.3 674.5,493.1 675.5,495.0 676.5,496.7 677.5,498.4 678.5,499.9 679.5,501.3 680.5,502.8 681.5,504.3 682.5,505.8 683.5,507.2 684.5,508.3 685.5,509.2 686.5,509.7 687.5,509.8 688.5,509.8 689.5,509.8 690.5,509.8 691.5,509.8 692.5,509.8 693.5,509.8 694.5,509.8 695.5,509.8 696.5,509.8 697.5,509.8 698.5,509.8 699.5,509.8 700.5,510.1 701.5,510.5 702.5,511.0 703.5,511.6 704.5,512.1 705.5,512.5 706.5,512.7 707.5,512.8 708.5,512.8 709.5,512.8 710.5,512.8 711.5,512.8 712.5,512.8 713.5,512.8 714.5,512.8 715.5,512.6 716.5,511.8 717.5,510.5 718.5,509.0 719.5,507.7 720.5,506.9 721.5,506.9 722.5,507.6 723.5,508.6 724.5,509.9 725.5,511.2 726.5,512.4 727.5,513.4 728.5,514.4 729.5,515.4 730.5,516.4 731.5,517.4 732.5,518.4 733.5,519.4 734.5,520.4 735.5,521.4 736.5,522.5 737.5,523.6 738.5,524.7 739.5,525.8 740.5,526.8 741.5,527.7 742.5,528.5 743.5,529.2 744.5,529.9 745.5,530.5 746.5,531.2 747.5,531.7 748.5,532.2 749.5,532.5 750.5,532.6 751.5,532.2 752.5,531.1 753.5,529.3 754.5,527.1 755.5,524.5 756.5,521.7 757.5,518.9 758.5,515.6 759.5,511.4 760.5,506.7 761.5,501.8 762.5,496.9 763.5,491.9 764.5,486.5 765.5,481.0 766.5,475.7 767.5,471.0 768.5,467.0 769.5,463.8 770.5,461.1 771.5,458.6 772.5,456.2 773.5,453.7 774.5,451.0 775.5,448.0 776.5,444.8 777.5,441.5 778.5,438.3 779.5,435.5 780.5,433.2 781.5,431.2 782.5,429.3 783.5,427.6 784.5,426.0 785.5,424.6 786.5,423.4 787.5,422.0 788.5,420.8 789.5,419.9 790.5,419.7 791.5,420.1 792.5,421.0 793.5,422.1 794.5,423.6 795.5,425.2 796.5,426.9 797.5,428.6 798.5,430.2 799.5,432.0 800.5,433.9 801.5,436.0 802.5,438.2 803.5,440.3 804.5,442.3 805.5,444.2 806.5,446.0 807.5,447.9 808.5,449.9 809.5,452.1 810.5,454.6 811.5,457.6 812.5,460.9 813.5,464.5 814.5,468.1 815.5,471.6 816.5,475.0 817.5,478.4 818.5,481.8 819.5,485.3 820.5,488.6 821.5,491.7 822.5,494.8 823.5,497.8 824.5,500.8 825.5,503.6 826.5,506.1 827.5,508.2 828.5,509.9 829.5,511.5 830.5,513.0 831.5,514.4 832.5,515.7 833.5,516.9 834.5,518.0 835.5,519.0 836.5,519.8 837.5,520.5 838.5,521.0 839.5,521.4 840.5,521.8 841.5,522.1 842.5,522.4 843.5,522.7 844.5,523.0 845.5,523.1 846.5,523.2 847.5,523.3 848.5,523.0 849.5,522.4 850.5,521.5 851.5,520.4 852.5,519.3 853.5,518.2 854.5,517.4 855.5,516.8 856.5,516.7 857.5,516.8 858.5,516.9 859.5,517.1 860.5,517.4 861.5,517.6 862.5,518.0 863.5,518.3 864.5,518.7 865.5,519.1 866.5,519.7 867.5,520.4 868.5,521.2 869.5,522.0 870.5,522.9 871.5,523.8 872.5,524.6 873.5,525.3 874.5,525.9 875.5,526.6 876.5,527.3 877.5,527.9 878.5,528.5 879.5,529.0 880.5,529.5 881.5,529.7 882.5,529.8 883.5,529.6 884.5,529.0 885.5,528.1 886.5,527.0 887.5,525.9 888.5,524.8 889.5,524.0 890.5,523.4 891.5,523.3 892.5,523.4 893.5,523.6 894.5,524.0 895.5,524.5 896.5,525.1 897.5,525.7 898.5,526.5 899.5,527.2 900.5,528.1 901.5,529.7 902.5,531.9 903.5,534.2 904.5,536.3 905.5,537.9 906.5,538.6 907.5,537.6 908.5,534.2 909.5,529.2 910.5,523.1 911.5,516.4 912.5,509.9 913.5,503.9 914.5,497.5 915.5,490.8 916.5,484.0 917.5,477.7 918.5,471.9 919.5,466.5 920.5,461.1 921.5,455.7 922.5,450.0 923.5,444.1 924.5,438.1 925.5,432.0 926.5,425.8 927.5,418.7 928.5,411.3 929.5,404.5 930.5,399.2 931.5,395.6 932.5,392.2 933.5,389.4 934.5,387.8 935.5,387.7 936.5,389.7 937.5,393.2 938.5,397.4 939.5,403.1 940.5,408.9 941.5,414.6 942.5,419.8 943.5,424.2 944.5,427.9 945.5,431.3 946.5,434.5 947.5,437.9 948.5,441.6 949.5,445.4 950.5,449.0 951.5,452.2 952.5,454.7 953.5,456.9 954.5,458.8 955.5,460.5 956.5,462.3 957.5,464.3 958.5,466.5 959.5,469.5 960.5,473.3 961.5,477.3 962.5,481.0 963.5,484.0 964.5,485.8 965.5,486.0 966.5,486.0 967.5,486.0 968.5,486.0 969.5,486.0 970.5,486.0 971.5,486.0 972.5,485.8 973.5,484.9 974.5,483.6 975.5,482.0 976.5,480.2 977.5,478.4 978.5,476.7 979.5,474.5 980.5,471.9 981.5,469.2 982.5,466.5 983.5,464.1 984.5,462.3 985.5,460.9 986.5,459.5 987.5,458.4 988.5,457.7 989.5,457.9 990.5,460.8 991.5,465.6 992.5,470.8 993.5,475.2 994.5,478.7 995.5,482.1 996.5,485.5 997.5,488.6 998.5,491.3 999.5,493.7 1000.5,495.6 1001.5,497.3 1002.5,498.8 1003.5,500.2 1004.5,501.4 1005.5,502.5 1006.5,503.5 1007.5,504.3 1008.5,505.0 1009.5,505.7 1010.5,506.3 1011.5,506.9 1012.5,507.5 1013.5,508.2 1014.5,508.8 1015.5,509.4 1016.5,510.1 1017.5,510.7 1018.5,511.4 1019.5,512.1 1020.5,513.0 1021.5,513.9 1022.5,514.9 1023.5,516.0 1024.5,517.1 1025.5,518.2 1026.5,519.3 1027.5,520.2 1028.5,521.1 1029.5,521.8 1030.5,522.6 1031.5,523.3 1032.5,524.0 1033.5,524.7 1034.5,525.3 1035.5,525.8 1036.5,526.3 1037.5,526.6 1038.5,527.0 1039.5,527.2 1040.5,527.5 1041.5,527.6 1041.7,527.7" fill="none" stroke="#d2691e" stroke-width="1.3" stroke-linejoin="round" stroke-dasharray="5.2,5.8"/>
<polyline points="607.5,554.4 608.5,555.4 609.5,556.2 610.5,556.7 611.5,557.0 612.5,557.2 613.5,557.3 614.5,557.3 615.5,557.1 616.5,556.2 617.5,554.5 618.5,552.3 619.5,549.8 620.5,547.0 621.5,544.2 622.5,541.1 623.5,537.2 624.5,532.7 625.5,527.8 626.5,522.7 627.5,517.7 628.5,512.7 629.5,507.4 630.5,501.9 631.5,496.4 632.5,490.9 633.5,485.7 634.5,480.6 635.5,475.4 636.5,470.1 637.5,465.3 638.5,461.0 639.5,457.6 640.5,454.7 641.5,451.9 642.5,449.3 643.5,446.9 644.5,445.1 645.5,443.9 646.5,443.5 647.5,444.7 648.5,448.1 649.5,452.5 650.5,457.3 651.5,461.4 652.5,465.1 653.5,468.9 654.5,472.7 655.5,476.4 656.5,480.0 657.5,483.4 658.5,486.7 659.5,489.9 660.5,493.0 661.5,496.1 662.5,499.1 663.5,501.9 664.5,504.7 665.5,507.3 666.5,509.8 667.5,512.2 668.5,514.6 669.5,516.8 670.5,519.0 671.5,521.1 672.5,523.2 673.5,525.2 674.5,527.1 675.5,529.1 676.5,531.0 677.5,532.8 678.5,534.5 679.5,536.2 680.5,537.6 681.5,538.9 682.5,540.3 683.5,541.7 684.5,543.0 685.5,544.2 686.5,545.2 687.5,545.9 688.5,546.4 689.5,546.4 690.5,546.4 691.5,546.4 692.5,546.4 693.5,546.4 694.5,546.4 695.5,546.4 696.5,546.4 697.5,546.4 698.5,546.4 699.5,546.4 700.5,546.5 701.5,546.7 702.5,546.9 703.5,547.2 704.5,547.4 705.5,547.7 706.5,548.0 707.5,548.3 708.5,548.6 709.5,548.9 710.5,549.3 711.5,549.7 712.5,550.0 713.5,550.3 714.5,550.4 715.5,547.2 716.5,545.3 717.5,544.0 718.5,543.1 719.5,542.7 720.5,542.5 721.5,542.6 722.5,543.2 723.5,544.3 724.5,545.7 725.5,547.3 726.5,549.0 727.5,550.6 728.5,552.0 729.5,553.1 730.5,554.2 731.5,555.3 732.5,556.3 733.5,557.3 734.5,558.3 735.5,559.2 736.5,560.1 737.5,560.9 738.5,561.8 739.5,562.6 740.5,563.4 741.5,564.1 742.5,564.8 743.5,565.5 744.5,566.1 745.5,566.8 746.5,567.4 747.5,568.1 748.5,568.6 749.5,569.0 750.5,569.2 751.5,568.8 752.5,567.4 753.5,565.2 754.5,562.4 755.5,559.3 756.5,555.9 757.5,552.5 758.5,548.7 759.5,544.1 760.5,538.9 761.5,533.6 762.5,528.6 763.5,523.7 764.5,518.7 765.5,513.6 766.5,508.8 767.5,504.4 768.5,500.7 769.5,497.5 770.5,494.8 771.5,492.2 772.5,489.8 773.5,487.3 774.5,484.7 775.5,482.0 776.5,479.2 777.5,476.4 778.5,473.7 779.5,471.2 780.5,468.8 781.5,466.4 782.5,464.0 783.5,461.7 784.5,459.7 785.5,458.1 786.5,457.1 787.5,456.4 788.5,455.8 789.5,455.4 790.5,455.4 791.5,455.8 792.5,456.7 793.5,457.9 794.5,459.4 795.5,461.0 796.5,462.7 797.5,464.3 798.5,465.8 799.5,467.3 800.5,468.9 801.5,470.6 802.5,472.3 803.5,474.1 804.5,475.9 805.5,477.7 806.5,479.6 807.5,481.5 808.5,483.6 809.5,485.8 810.5,488.2 811.5,490.9 812.5,493.9 813.5,497.0 814.5,500.2 815.5,503.4 816.5,506.6 817.5,509.9 818.5,513.4 819.5,516.8 820.5,520.2 821.5,523.4 822.5,526.4 823.5,529.5 824.5,532.5 825.5,535.4 826.5,537.9 827.5,539.9 828.5,541.5 829.5,542.9 830.5,544.2 831.5,545.4 832.5,546.5 833.5,547.5 834.5,548.5 835.5,549.3 836.5,550.1 837.5,550.9 838.5,551.6 839.5,552.3 840.5,553.0 841.5,553.6 842.5,554.3 843.5,554.9 844.5,555.4 845.5,555.8 846.5,556.0 847.5,556.1 848.5,556.0 849.5,555.5 850.5,554.9 851.5,554.2 852.5,553.5 853.5,552.8 854.5,552.2 855.5,551.8 856.5,551.7 857.5,551.7 858.5,551.7 859.5,551.7 860.5,551.7 861.5,551.7 862.5,551.7 863.5,551.7 864.5,551.7 865.5,551.8 866.5,552.2 867.5,553.0 868.5,554.0 869.5,555.2 870.5,556.5 871.5,557.8 872.5,559.1 873.5,560.2 874.5,561.3 875.5,562.5 876.5,563.8 877.5,565.1 878.5,566.4 879.5,567.5 880.5,568.4 881.5,569.0 882.5,569.3 883.5,569.0 884.5,568.4 885.5,567.5 886.5,566.4 887.5,565.3 888.5,564.3 889.5,563.4 890.5,562.8 891.5,562.7 892.5,563.1 893.5,564.1 894.5,565.4 895.5,566.8 896.5,568.3 897.5,569.7 898.5,570.7 899.5,571.3 900.5,571.4 901.5,571.4 902.5,571.4 903.5,571.4 904.5,571.4 905.5,571.4 906.5,571.4 907.5,571.1 908.5,569.8 909.5,567.8 910.5,565.2 911.5,562.0 912.5,558.6 913.5,554.8 914.5,548.4 915.5,540.2 916.5,531.5 917.5,523.7 918.5,517.4 919.5,511.6 920.5,506.0 921.5,499.9 922.5,492.9 923.5,485.0 924.5,476.5 925.5,468.2 926.5,460.7 927.5,453.3 928.5,446.1 929.5,439.6 930.5,434.3 931.5,430.1 932.5,426.1 933.5,422.8 934.5,420.7 935.5,420.5 936.5,421.5 937.5,423.9 938.5,427.9 939.5,434.0 940.5,446.9 941.5,451.9 942.5,455.1 943.5,457.5 944.5,459.7 945.5,462.6 946.5,465.7 947.5,468.7 948.5,471.6 949.5,474.4 950.5,477.4 951.5,480.5 952.5,483.8 953.5,487.6 954.5,491.5 955.5,495.4 956.5,499.3 957.5,502.8 958.5,505.9 959.5,508.8 960.5,511.5 961.5,514.1 962.5,516.4 963.5,518.6 964.5,520.3 965.5,521.8 966.5,523.2 967.5,524.5 968.5,525.6 969.5,526.3 970.5,526.6 971.5,526.0 972.5,524.5 973.5,522.4 974.5,520.0 975.5,517.7 976.5,515.6 977.5,513.3 978.5,511.0 979.5,508.5 980.5,506.1 981.5,503.7 982.5,501.4 983.5,499.0 984.5,496.4 985.5,494.1 986.5,492.8 987.5,492.9 988.5,494.4 989.5,496.9 990.5,500.0 991.5,503.1 992.5,506.1 993.5,509.2 994.5,512.7 995.5,516.2 996.5,519.6 997.5,522.4 998.5,524.7 999.5,526.7 1000.5,528.7 1001.5,530.4 1002.5,531.9 1003.5,533.2 1004.5,534.3 1005.5,535.2 1006.5,535.9 1007.5,536.5 1008.5,537.1 1009.5,537.7 1010.5,538.3 1011.5,538.9 1012.5,539.6 1013.5,540.2 1014.5,540.8 1015.5,541.5 1016.5,542.2 1017.5,542.9 1018.5,543.8 1019.5,544.7 1020.5,545.7 1021.5,546.8 1022.5,547.9 1023.5,548.9 1024.5,549.9 1025.5,551.0 1026.5,552.2 1027.5,553.3 1028.5,554.4 1029.5,555.3 1030.5,556.0 1031.5,556.5 1032.5,556.9 1033.5,557.3 1034.5,557.7 1035.5,558.0 1036.5,558.2 1037.5,558.3 1038.5,558.5 1039.5,558.6 1040.5,558.7 1041.5,558.7 1041.7,558.7" fill="none" stroke="#d2691e" stroke-width="1.3" stroke-linejoin="round" stroke-dasharray="5.2,5.8"/>
<polyline points="607.5,537.2 608.5,537.9 609.5,538.7 610.5,539.3 611.5,539.7 612.5,539.7 613.5,539.5 614.5,539.0 615.5,538.3 616.5,537.2 617.5,535.7 618.5,533.7 619.5,531.3 620.5,528.7 621.5,526.0 622.5,523.1 623.5,520.1 624.5,516.7 625.5,513.0 626.5,508.7 627.5,503.9 628.5,498.7 629.5,493.2 630.5,487.6 631.5,482.2 632.5,476.9 633.5,471.8 634.5,466.8 635.5,461.8 636.5,456.7 637.5,451.4 638.5,446.0 639.5,440.5 640.5,435.4 641.5,431.2 642.5,428.3 643.5,426.5 644.5,426.0 645.5,426.6 646.5,428.5 647.5,431.7 648.5,435.9 649.5,440.6 650.5,445.5 651.5,450.4 652.5,455.2 653.5,459.7 654.5,464.0 655.5,468.0 656.5,471.7 657.5,475.1 658.5,478.2 659.5,481.1 660.5,483.8 661.5,486.4 662.5,488.9 663.5,491.4 664.5,493.8 665.5,496.2 666.5,498.5 667.5,500.8 668.5,503.1 669.5,505.3 670.5,507.4 671.5,509.6 672.5,511.6 673.5,513.5 674.5,515.4 675.5,517.1 676.5,518.6 677.5,520.1 678.5,521.5 679.5,522.7 680.5,523.9 681.5,524.9 682.5,525.8 683.5,526.7 684.5,527.4 685.5,527.9 686.5,528.3 687.5,528.5 688.5,528.6 689.5,528.6 690.5,528.6 691.5,528.6 692.5,528.6 693.5,528.6 694.5,528.6 695.5,528.7 696.5,528.7 697.5,528.8 698.5,528.9 699.5,529.0 700.5,529.2 701.5,529.4 702.5,529.6 703.5,529.8 704.5,530.0 705.5,530.3 706.5,530.6 707.5,530.9 708.5,531.2 709.5,531.3 710.5,531.4 711.5,531.4 712.5,531.3 713.5,531.0 714.5,530.5 715.5,529.9 716.5,529.0 717.5,527.9 718.5,526.8 719.5,525.9 720.5,525.4 721.5,525.4 722.5,525.8 723.5,526.6 724.5,527.7 725.5,528.9 726.5,530.2 727.5,531.4 728.5,532.7 729.5,534.1 730.5,535.5 731.5,536.8 732.5,538.0 733.5,539.1 734.5,540.0 735.5,540.8 736.5,541.4 737.5,541.8 738.5,542.3 739.5,542.9 740.5,543.7 741.5,544.7 742.5,546.1 743.5,547.6 744.5,549.0 745.5,550.1 746.5,550.8 747.5,551.1 748.5,551.2 749.5,551.1 750.5,550.8 751.5,550.4 752.5,549.5 753.5,547.7 754.5,545.1 755.5,541.4 756.5,537.2 757.5,532.4 758.5,527.3 759.5,521.8 760.5,516.2 761.5,510.6 762.5,505.4 763.5,500.5 764.5,495.9 765.5,491.7 766.5,487.9 767.5,484.5 768.5,481.5 769.5,479.0 770.5,476.8 771.5,474.8 772.5,472.9 773.5,470.8 774.5,468.5 775.5,465.8 776.5,462.8 777.5,459.8 778.5,456.7 779.5,453.9 780.5,451.3 781.5,448.9 782.5,446.8 783.5,444.8 784.5,443.1 785.5,441.7 786.5,440.5 787.5,439.7 788.5,439.2 789.5,439.1 790.5,439.5 791.5,440.3 792.5,441.4 793.5,442.6 794.5,444.0 795.5,445.5 796.5,447.1 797.5,448.8 798.5,450.5 799.5,452.2 800.5,453.9 801.5,455.5 802.5,457.1 803.5,458.8 804.5,460.5 805.5,462.4 806.5,464.5 807.5,466.9 808.5,469.4 809.5,472.1 810.5,474.9 811.5,477.6 812.5,480.4 813.5,483.0 814.5,485.7 815.5,488.3 816.5,491.0 817.5,493.8 818.5,496.6 819.5,499.5 820.5,502.4 821.5,505.4 822.5,508.5 823.5,511.8 824.5,515.3 825.5,518.9 826.5,522.2 827.5,524.9 828.5,526.8 829.5,528.2 830.5,529.2 831.5,530.0 832.5,530.7 833.5,531.3 834.5,531.9 835.5,532.5 836.5,533.2 837.5,534.0 838.5,534.7 839.5,535.5 840.5,536.2 841.5,536.8 842.5,537.2 843.5,537.4 844.5,537.4 845.5,537.4 846.5,537.3 847.5,537.1 848.5,537.0 849.5,536.8 850.5,536.6 851.5,536.4 852.5,536.2 853.5,535.8 854.5,535.4 855.5,535.1 856.5,534.7 857.5,534.5 858.5,534.5 859.5,534.7 860.5,535.2 861.5,535.8 862.5,536.6 863.5,537.4 864.5,538.1 865.5,538.9 866.5,539.6 867.5,540.2 868.5,540.9 869.5,541.6 870.5,542.3 871.5,543.1 872.5,543.9 873.5,544.9 874.5,545.9 875.5,546.8 876.5,547.5 877.5,548.0 878.5,548.2 879.5,548.3 880.5,548.2 881.5,548.1 882.5,547.9 883.5,547.6 884.5,547.3 885.5,546.8 886.5,546.1 887.5,545.4 888.5,544.6 889.5,544.0 890.5,543.6 891.5,543.5 892.5,543.8 893.5,544.5 894.5,545.4 895.5,546.6 896.5,547.9 897.5,549.2 898.5,550.6 899.5,552.1 900.5,553.7 901.5,555.2 902.5,556.4 903.5,557.2 904.5,557.4 905.5,557.0 906.5,555.8 907.5,554.1 908.5,551.7 909.5,548.7 910.5,545.0 911.5,540.4 912.5,535.2 913.5,529.4 914.5,523.0 915.5,516.2 916.5,509.2 917.5,502.2 918.5,495.4 919.5,488.8 920.5,482.2 921.5,475.6 922.5,468.9 923.5,462.0 924.5,455.0 925.5,447.9 926.5,440.9 927.5,433.9 928.5,427.1 929.5,421.0 930.5,415.9 931.5,411.7 932.5,408.4 933.5,406.1 934.5,405.1 935.5,405.6 936.5,407.5 937.5,410.1 938.5,413.0 939.5,416.4 940.5,421.2 941.5,427.3 942.5,434.1 943.5,440.3 944.5,445.6 945.5,450.0 946.5,453.9 947.5,457.6 948.5,461.2 949.5,464.7 950.5,468.2 951.5,471.7 952.5,475.2 953.5,478.7 954.5,482.2 955.5,485.6 956.5,488.9 957.5,492.0 958.5,495.0 959.5,497.8 960.5,500.5 961.5,502.8 962.5,504.9 963.5,506.7 964.5,508.4 965.5,509.7 966.5,510.8 967.5,511.4 968.5,511.5 969.5,510.8 970.5,509.6 971.5,508.0 972.5,506.1 973.5,504.2 974.5,502.2 975.5,500.2 976.5,498.3 977.5,496.2 978.5,494.2 979.5,492.1 980.5,489.9 981.5,487.6 982.5,485.2 983.5,482.8 984.5,480.8 985.5,479.3 986.5,478.7 987.5,479.1 988.5,480.6 989.5,483.0 990.5,486.0 991.5,489.5 992.5,493.4 993.5,497.4 994.5,501.1 995.5,504.3 996.5,506.8 997.5,508.6 998.5,510.1 999.5,511.4 1000.5,512.6 1001.5,513.7 1002.5,514.8 1003.5,515.8 1004.5,516.9 1005.5,517.9 1006.5,518.9 1007.5,519.9 1008.5,520.9 1009.5,522.0 1010.5,523.2 1011.5,524.4 1012.5,525.5 1013.5,526.4 1014.5,527.0 1015.5,527.4 1016.5,527.6 1017.5,527.6 1018.5,527.7 1019.5,527.7 1020.5,527.7 1021.5,527.8 1022.5,528.1 1023.5,528.7 1024.5,529.5 1025.5,530.5 1026.5,531.7 1027.5,533.0 1028.5,534.3 1029.5,535.6 1030.5,537.0 1031.5,538.4 1032.5,539.6 1033.5,540.6 1034.5,541.3 1035.5,541.7 1036.5,541.8 1037.5,541.8 1038.5,541.6 1039.5,541.5 1040.5,541.2 1041.5,541.0 1041.7,540.9" fill="none" stroke="#d2691e" stroke-width="3.8" stroke-linejoin="round"/>
</g>
<g clip-path="url(#cE)">
<polyline points="78.6,816.9 79.8,817.5 81.9,786.2 83.1,785.0 84.4,800.0 85.2,803.8 86.9,781.2 88.1,787.5 89.4,807.5 91.0,786.2 92.2,780.0 93.5,810.6 95.0,787.5 96.5,778.1 97.5,782.5 99.0,796.2 100.2,780.0 101.5,773.1 103.1,811.2 104.4,790.0 105.6,796.2 107.2,805.0 108.5,787.5 109.8,770.0 111.2,741.9 112.5,770.0 114.0,742.5 115.2,704.4 116.9,748.8 118.1,763.8 119.4,767.5 120.6,782.5 122.2,818.8 123.8,800.0 125.0,790.0 126.2,815.0 128.1,790.0 129.4,786.2 131.0,808.8 132.8,775.0 130.0,801.3 132.6,778.9 135.2,794.4 136.9,787.5 138.6,780.6 140.3,788.4 141.7,789.2 143.8,766.9 145.5,801.3 147.2,781.5 148.6,806.4 149.8,832.2 151.5,846.0 153.2,852.9 154.9,901.0 157.2,868.4 158.9,903.6 161.0,866.6 162.7,846.0 164.4,878.7 166.1,825.4 167.0,840.8 168.2,879.5 170.4,878.7 173.0,917.4 175.6,878.7 177.3,911.4 179.9,868.4 181.6,863.2 183.3,859.8 185.0,834.0 186.8,856.3 189.3,819.3 191.9,842.6 194.5,834.0 196.2,863.2 197.9,830.5 199.2,835.0 201.1,826.2 203.0,818.8 204.2,816.9 205.5,838.8 207.0,817.5 208.2,805.6 209.5,817.5 210.8,810.0 212.0,793.8 213.6,769.4 215.2,797.5 216.5,780.0 217.8,751.9 219.5,810.0 220.5,807.5 221.8,806.2 223.0,823.8 224.5,835.0 226.1,818.8 227.8,820.0 229.0,833.8 230.8,823.8 232.0,830.0 233.6,837.5 235.2,817.5 236.8,823.8 238.2,836.2 239.9,815.0 241.1,810.0 242.4,825.0 243.6,808.8 244.9,808.8 246.1,827.5 247.8,812.5 249.2,810.0 250.8,825.0 252.0,838.8 253.6,815.0 255.0,815.0 256.2,813.8 257.5,787.5 258.8,780.0 259.8,776.9 261.0,788.8 262.2,770.0 263.8,744.4 265.0,772.5 266.0,790.0 266.9,795.0 268.1,795.0 269.4,810.0 270.6,838.8 272.2,820.0 273.5,812.5 274.8,838.8 276.2,822.5 277.5,810.0 278.8,820.0 280.0,828.8 281.5,802.5 282.8,801.2 284.0,827.5 285.6,810.0 286.9,797.5 288.1,830.0 289.8,820.0 291.0,815.0 292.2,820.0 293.5,837.5 294.8,820.0 296.2,802.5 297.8,830.0 299.4,810.0 300.6,796.2 301.9,796.2 303.1,802.5 304.4,772.5 305.6,764.4 306.9,791.9 308.5,761.2 309.8,745.6 311.2,816.2 313.2,794.4 314.8,800.0 316.4,822.5 318.0,800.0 318.9,794.4 320.5,830.0 322.0,811.2 323.5,807.5 324.5,806.2 326.0,813.8 327.2,800.0 328.5,792.5 330.1,820.0 331.4,800.0 332.2,790.6 333.5,815.0 335.1,818.8 336.4,811.2 337.6,811.9 339.2,830.0 340.8,807.5 342.0,792.5 343.2,802.5 344.5,788.8 345.8,756.2 347.2,758.8 348.5,765.0 350.1,728.8 351.8,738.8 353.0,788.8 354.5,792.5 355.8,782.5 356.8,807.5 358.2,810.0 359.8,796.2 361.0,797.5 362.2,807.5 363.5,797.5 364.8,797.5 366.0,806.2 367.6,792.5 369.2,790.0 370.5,797.5 371.8,811.2 373.4,795.0 374.6,781.2 375.9,810.0 377.1,785.0 378.4,775.0 379.6,787.5 381.2,792.5 382.8,777.5 384.0,773.8 385.2,808.8 386.8,790.0 387.8,778.1 389.2,798.8 390.9,782.5 392.8,780.0 394.0,775.0 395.0,787.5 396.2,757.5 397.8,733.8 399.0,750.0 400.2,755.6 401.5,718.8 403.0,721.2 404.4,762.5 405.2,765.0 406.5,761.2 407.8,768.8 408.8,797.5 410.2,770.0 411.8,787.5 413.4,801.2 415.0,787.5 416.5,785.0 417.8,800.0 419.0,781.2 420.2,778.8 421.5,782.5 422.8,785.0 424.0,770.0 425.5,768.8 427.1,796.2 427.2,797.5 428.8,781.2 430.0,770.0 431.6,797.5 432.9,777.5 434.1,773.1 435.4,775.0 436.6,791.2 437.9,775.0 439.5,763.1 441.0,796.2 442.2,785.0 443.5,782.5 444.8,790.0 446.2,809.4 447.5,793.8 448.8,787.5 450.4,802.5 451.6,781.2 452.9,772.5 454.1,775.0 455.4,786.2 457.0,757.5 458.5,733.1 459.8,775.0 461.0,758.8 462.5,725.0 463.8,792.5 465.4,776.2 466.6,777.5 467.9,780.0 469.1,806.2 470.4,787.5 472.0,775.0 473.2,792.5 474.5,795.0 476.0,780.0 477.2,781.2 478.8,795.0 480.0,777.5 481.2,770.0 482.9,800.0" fill="none" stroke="#000" stroke-width="1.5" stroke-linejoin="round"/>
<polyline points="79.6,760.7 81.6,762.9 83.6,764.7 85.6,765.8 87.6,766.7 89.6,767.4 91.6,767.6 93.6,767.1 95.6,766.1 97.6,765.4 99.6,765.6 101.6,766.9 103.6,768.2 105.6,768.7 107.6,768.0 109.6,766.7 111.6,765.5 113.6,764.9 115.6,764.4 117.6,764.2 119.6,764.8 121.6,766.7 123.6,768.7 125.6,770.5 127.6,772.3 129.6,774.5 131.6,777.4 133.6,781.4 135.6,786.2 137.6,791.1 139.6,796.7 141.6,802.6 143.6,808.4 145.6,813.5 147.6,818.2 149.6,822.8 151.6,827.1 153.6,831.6 155.6,835.8 157.6,839.3 159.6,841.8 161.6,844.0 163.6,845.8 165.6,847.1 167.6,848.3 169.6,849.3 171.6,850.1 173.6,850.7 175.6,851.1 177.6,851.2 179.6,850.2 181.6,848.5 183.6,846.8 185.6,845.1 187.6,843.1 189.6,841.0 191.6,838.6 193.6,836.0 195.6,833.2 197.6,830.5 199.6,827.8 201.6,825.2 203.6,822.5 205.6,819.8 207.6,816.9 209.6,814.2 211.6,811.9 213.6,810.1 215.6,808.4 217.6,806.9 219.6,805.6 221.6,804.3 223.6,803.2 225.6,802.5 227.6,801.8 229.6,801.2 231.6,800.8 233.6,800.4 235.6,800.2 237.6,800.1 239.6,800.0 241.6,799.8 243.6,799.7 245.6,799.3 247.6,798.8 249.6,798.4 251.6,798.1 253.6,798.1 255.6,798.1 257.6,798.1 259.6,798.1 261.6,798.1 263.6,798.4 265.6,799.2 267.6,800.0 269.6,800.7 271.6,800.8 273.6,800.7 275.6,800.4 277.6,800.0 279.6,799.6 281.6,799.2 283.6,798.8 285.6,798.5 287.6,798.2 289.6,798.0 291.6,797.8 293.6,797.5 295.6,797.2 297.6,796.7 299.6,796.2 301.6,795.7 303.6,795.1 305.6,794.4 307.6,793.6 309.6,792.8 311.6,792.0 313.6,791.4 315.6,790.9 317.6,790.4 319.6,789.9 321.6,789.4 323.6,788.9 325.6,788.5 327.6,788.0 329.6,787.5 331.6,786.9 333.6,786.2 335.6,785.4 337.6,784.6 339.6,783.9 341.6,783.1 343.6,782.3 345.6,781.5 347.6,780.8 349.6,780.1 351.6,779.6 353.6,779.1 355.6,778.6 357.6,778.1 359.6,777.6 361.6,777.1 363.6,776.6 365.6,776.1 367.6,775.6 369.6,775.2 371.6,774.7 373.6,774.2 375.6,773.7 377.6,773.1 379.6,772.2 381.6,771.3 383.6,770.6 385.6,769.9 387.6,769.3 389.6,768.6 391.6,767.9 393.6,767.2 395.6,766.6 397.6,766.2 399.6,765.9 401.6,765.6 403.6,765.5 405.6,765.4 407.6,765.5 409.6,765.7 411.6,765.9 413.6,766.1 415.6,766.2 417.6,766.3 419.6,766.4 421.6,766.5 423.6,766.6 425.6,767.0 427.6,767.5 429.6,768.0 431.6,768.4 433.6,768.4 435.6,768.4 437.6,768.4 439.6,768.4 441.6,768.4 443.6,768.6 445.6,769.0 447.6,769.5 449.6,769.9 451.6,770.0 453.6,769.8 455.6,769.4 457.6,769.1 459.6,768.9 461.6,769.0 463.6,769.2 465.6,769.6 467.6,769.9 469.6,770.0 471.6,769.4 473.6,768.1 475.6,766.9 477.6,765.8 479.6,764.8 481.6,763.8 483.0,763.1" fill="none" stroke="#f00" stroke-width="1.3" stroke-linejoin="round" stroke-dasharray="5.2,5.8"/>
<polyline points="79.6,818.0 81.6,813.7 83.6,809.7 85.6,805.9 87.6,802.2 89.6,798.8 91.6,796.1 93.6,794.0 95.6,792.1 97.6,790.8 99.6,790.2 101.6,789.7 103.6,789.5 105.6,789.4 107.6,789.7 109.6,790.5 111.6,791.4 113.6,792.4 115.6,793.8 117.6,795.2 119.6,796.6 121.6,797.9 123.6,799.2 125.6,800.6 127.6,802.3 129.6,804.1 131.6,806.3 133.6,808.8 135.6,811.9 137.6,815.4 139.6,819.1 141.6,822.8 143.6,826.7 145.6,830.9 147.6,835.6 149.6,841.1 151.6,846.7 153.6,851.7 155.6,856.2 157.6,860.2 159.6,863.9 161.6,867.2 163.6,870.3 165.6,872.9 167.6,874.4 169.6,875.4 171.6,876.1 173.6,876.4 175.6,872.9 177.6,868.8 179.6,867.4 181.6,866.4 183.6,865.1 185.6,863.4 187.6,861.3 189.6,859.2 191.6,857.2 193.6,855.3 195.6,853.3 197.6,851.1 199.6,848.7 201.6,845.9 203.6,843.1 205.6,840.4 207.6,837.4 209.6,834.7 211.6,832.6 213.6,831.1 215.6,829.8 217.6,828.6 219.6,827.5 221.6,826.3 223.6,825.3 225.6,824.8 227.6,824.5 229.6,824.2 231.6,824.0 233.6,823.8 235.6,823.6 237.6,823.3 239.6,823.1 241.6,822.8 243.6,822.6 245.6,822.2 247.6,821.9 249.6,821.5 251.6,821.2 253.6,820.8 255.6,820.3 257.6,819.7 259.6,819.3 261.6,819.2 263.6,819.2 265.6,819.2 267.6,819.2 269.6,819.2 271.6,819.2 273.6,819.1 275.6,819.1 277.6,819.0 279.6,818.9 281.6,818.9 283.6,818.8 285.6,818.7 287.6,818.6 289.6,818.4 291.6,818.3 293.6,818.1 295.6,817.8 297.6,817.4 299.6,816.8 301.6,816.2 303.6,815.7 305.6,815.2 307.6,814.7 309.6,814.2 311.6,813.7 313.6,813.2 315.6,812.7 317.6,812.2 319.6,811.7 321.6,811.2 323.6,810.7 325.6,810.1 327.6,809.6 329.6,809.1 331.6,808.8 333.6,808.5 335.6,808.2 337.6,808.0 339.6,807.8 341.6,807.5 343.6,807.3 345.6,807.1 347.6,806.8 349.6,806.5 351.6,806.1 353.6,805.6 355.6,805.1 357.6,804.5 359.6,803.9 361.6,803.2 363.6,802.5 365.6,801.7 367.6,800.9 369.6,800.0 371.6,799.0 373.6,798.0 375.6,796.9 377.6,795.8 379.6,794.4 381.6,793.2 383.6,792.3 385.6,791.6 387.6,791.0 389.6,790.5 391.6,790.0 393.6,789.5 395.6,789.1 397.6,788.8 399.6,788.4 401.6,788.1 403.6,787.9 405.6,787.6 407.6,787.4 409.6,787.1 411.6,786.9 413.6,786.8 415.6,786.8 417.6,786.8 419.6,786.8 421.6,786.8 423.6,786.8 425.6,787.1 427.6,787.7 429.6,788.5 431.6,789.3 433.6,789.8 435.6,790.3 437.6,790.8 439.6,791.3 441.6,791.8 443.6,792.3 445.6,792.8 447.6,793.3 449.6,793.8 451.6,794.3 453.6,794.8 455.6,795.2 457.6,795.7 459.6,796.3 461.6,797.0 463.6,798.0 465.6,799.0 467.6,800.1 469.6,801.2 471.6,802.1 473.6,802.9 475.6,804.1 477.6,805.8 479.6,808.6 481.6,812.0 483.0,814.8" fill="none" stroke="#f00" stroke-width="1.3" stroke-linejoin="round" stroke-dasharray="5.2,5.8"/>
<polyline points="79.6,789.9 80.6,789.6 81.6,789.2 82.6,788.8 83.6,788.3 84.6,787.8 85.6,787.3 86.6,786.7 87.6,786.2 88.6,785.6 89.6,785.0 90.6,784.5 91.6,783.9 92.6,783.3 93.6,782.8 94.6,782.2 95.6,781.7 96.6,781.2 97.6,780.7 98.6,780.3 99.6,779.9 100.6,779.5 101.6,779.2 102.6,778.9 103.6,778.6 104.6,778.3 105.6,778.1 106.6,778.0 107.6,777.8 108.6,777.8 109.6,777.8 110.6,777.8 111.6,777.9 112.6,778.1 113.6,778.3 114.6,778.6 115.6,778.9 116.6,779.4 117.6,779.9 118.6,780.5 119.6,781.1 120.6,781.9 121.6,782.8 122.6,783.7 123.6,784.8 124.6,785.9 125.6,787.1 126.6,788.4 127.6,789.8 128.6,791.2 129.6,792.7 130.6,794.2 131.6,795.8 132.6,797.4 133.6,799.1 134.6,800.8 135.6,802.6 136.6,804.5 137.6,806.5 138.6,808.5 139.6,810.7 140.6,812.9 141.6,815.2 142.6,817.6 143.6,820.0 144.6,822.4 145.6,824.7 146.6,827.1 147.6,829.4 148.6,831.7 149.6,833.9 150.6,836.0 151.6,838.0 152.6,839.9 153.6,841.7 154.6,843.4 155.6,845.1 156.6,846.6 157.6,848.1 158.6,849.5 159.6,850.9 160.6,852.1 161.6,853.3 162.6,854.4 163.6,855.5 164.6,856.5 165.6,857.4 166.6,858.2 167.6,859.0 168.6,859.7 169.6,860.2 170.6,860.6 171.6,860.9 172.6,861.1 173.6,861.2 174.6,861.1 175.6,860.9 176.6,860.6 177.6,860.2 178.6,859.8 179.6,859.2 180.6,858.5 181.6,857.7 182.6,856.8 183.6,855.9 184.6,855.0 185.6,854.0 186.6,853.0 187.6,852.0 188.6,851.0 189.6,849.9 190.6,848.9 191.6,847.8 192.6,846.7 193.6,845.5 194.6,844.4 195.6,843.2 196.6,842.0 197.6,840.7 198.6,839.4 199.6,838.2 200.6,836.8 201.6,835.5 202.6,834.1 203.6,832.7 204.6,831.2 205.6,829.8 206.6,828.3 207.6,826.8 208.6,825.4 209.6,824.1 210.6,822.8 211.6,821.6 212.6,820.5 213.6,819.5 214.6,818.6 215.6,817.8 216.6,817.0 217.6,816.3 218.6,815.7 219.6,815.1 220.6,814.6 221.6,814.1 222.6,813.7 223.6,813.4 224.6,813.1 225.6,812.8 226.6,812.6 227.6,812.4 228.6,812.2 229.6,812.1 230.6,812.0 231.6,811.9 232.6,811.9 233.6,811.9 234.6,811.8 235.6,811.8 236.6,811.8 237.6,811.8 238.6,811.8 239.6,811.7 240.6,811.7 241.6,811.6 242.6,811.6 243.6,811.5 244.6,811.4 245.6,811.4 246.6,811.3 247.6,811.2 248.6,811.1 249.6,811.0 250.6,810.9 251.6,810.9 252.6,810.8 253.6,810.7 254.6,810.6 255.6,810.6 256.6,810.5 257.6,810.4 258.6,810.3 259.6,810.2 260.6,810.1 261.6,810.0 262.6,809.9 263.6,809.8 264.6,809.7 265.6,809.6 266.6,809.5 267.6,809.4 268.6,809.4 269.6,809.3 270.6,809.2 271.6,809.1 272.6,809.1 273.6,809.0 274.6,808.9 275.6,808.8 276.6,808.7 277.6,808.6 278.6,808.5 279.6,808.4 280.6,808.3 281.6,808.1 282.6,808.0 283.6,807.9 284.6,807.8 285.6,807.7 286.6,807.5 287.6,807.4 288.6,807.3 289.6,807.2 290.6,807.0 291.6,806.9 292.6,806.8 293.6,806.6 294.6,806.4 295.6,806.2 296.6,806.0 297.6,805.8 298.6,805.5 299.6,805.3 300.6,805.0 301.6,804.8 302.6,804.5 303.6,804.3 304.6,804.0 305.6,803.7 306.6,803.5 307.6,803.2 308.6,803.0 309.6,802.7 310.6,802.5 311.6,802.2 312.6,802.0 313.6,801.7 314.6,801.5 315.6,801.2 316.6,801.0 317.6,800.7 318.6,800.5 319.6,800.2 320.6,800.0 321.6,799.7 322.6,799.5 323.6,799.2 324.6,799.0 325.6,798.7 326.6,798.5 327.6,798.2 328.6,798.0 329.6,797.7 330.6,797.5 331.6,797.2 332.6,797.0 333.6,796.7 334.6,796.5 335.6,796.2 336.6,796.0 337.6,795.7 338.6,795.5 339.6,795.2 340.6,795.0 341.6,794.7 342.6,794.5 343.6,794.2 344.6,794.0 345.6,793.7 346.6,793.5 347.6,793.2 348.6,793.0 349.6,792.7 350.6,792.5 351.6,792.3 352.6,792.0 353.6,791.8 354.6,791.5 355.6,791.2 356.6,791.0 357.6,790.7 358.6,790.5 359.6,790.2 360.6,789.9 361.6,789.6 362.6,789.3 363.6,789.0 364.6,788.7 365.6,788.4 366.6,788.1 367.6,787.8 368.6,787.5 369.6,787.2 370.6,786.8 371.6,786.5 372.6,786.2 373.6,785.9 374.6,785.5 375.6,785.2 376.6,784.8 377.6,784.4 378.6,784.0 379.6,783.6 380.6,783.2 381.6,782.8 382.6,782.4 383.6,782.0 384.6,781.6 385.6,781.2 386.6,780.8 387.6,780.4 388.6,780.0 389.6,779.7 390.6,779.3 391.6,778.9 392.6,778.6 393.6,778.3 394.6,778.0 395.6,777.8 396.6,777.6 397.6,777.4 398.6,777.2 399.6,777.1 400.6,776.9 401.6,776.8 402.6,776.7 403.6,776.6 404.6,776.5 405.6,776.4 406.6,776.3 407.6,776.2 408.6,776.1 409.6,776.0 410.6,776.0 411.6,775.9 412.6,775.9 413.6,775.8 414.6,775.8 415.6,775.8 416.6,775.8 417.6,775.8 418.6,775.8 419.6,775.8 420.6,775.8 421.6,775.8 422.6,775.8 423.6,775.8 424.6,775.9 425.6,776.0 426.6,776.1 427.6,776.2 428.6,776.3 429.6,776.5 430.6,776.6 431.6,776.8 432.6,777.0 433.6,777.2 434.6,777.4 435.6,777.7 436.6,777.9 437.6,778.2 438.6,778.4 439.6,778.6 440.6,778.9 441.6,779.1 442.6,779.2 443.6,779.4 444.6,779.5 445.6,779.7 446.6,779.8 447.6,779.9 448.6,780.1 449.6,780.2 450.6,780.4 451.6,780.6 452.6,780.8 453.6,781.0 454.6,781.2 455.6,781.5 456.6,781.7 457.6,782.0 458.6,782.2 459.6,782.5 460.6,782.8 461.6,783.1 462.6,783.4 463.6,783.7 464.6,783.9 465.6,784.3 466.6,784.6 467.6,784.9 468.6,785.3 469.6,785.6 470.6,786.0 471.6,786.4 472.6,786.8 473.6,787.3 474.6,787.7 475.6,788.2 476.6,788.6 477.6,789.1 478.6,789.5 479.6,790.0 480.6,790.4 481.6,790.8 482.6,791.1 483.0,791.3" fill="none" stroke="#f00" stroke-width="2.7" stroke-linejoin="round"/>
<line x1="138.0" y1="737.3" x2="138.0" y2="925.2" stroke="#006400" stroke-width="2.4"/>
<line x1="165.2" y1="737.3" x2="165.2" y2="925.2" stroke="#006400" stroke-width="2.4"/>
</g>
<g clip-path="url(#cF)">
<polyline points="605.6,810.6 1045.0,810.6" fill="none" stroke="#f00" stroke-width="2.3" stroke-linejoin="round" stroke-dasharray="8.4,10"/>
<polyline points="621.9,767.7 623.5,767.1 625.1,765.3 626.7,765.4 628.3,766.4 629.9,766.4 631.5,764.4 633.1,764.6 634.7,765.8 636.3,770.0 637.9,772.2 639.5,775.7 641.1,778.4 642.7,780.1 644.3,785.2 645.9,788.5 647.5,788.1 649.1,790.2 650.7,790.0 652.3,791.2 653.9,792.3 655.5,795.5 657.1,797.2 658.7,799.4 660.3,803.5 661.9,806.0 663.5,805.9 665.1,806.4 666.7,807.8 668.3,810.8 669.9,814.0 671.5,816.9 673.1,820.3 674.7,822.5 676.3,823.5 677.9,824.7 679.5,828.2 681.1,829.0 682.7,827.8 684.3,826.3 685.9,826.5 687.5,827.1 689.1,827.4 690.7,828.1 692.3,828.7 693.9,828.6 695.5,825.6 697.1,822.3 698.7,819.9 700.3,817.8 701.9,814.4 703.5,811.9 705.1,810.5 706.7,807.0 708.3,805.1 709.9,801.2 711.5,798.2 713.1,793.6 714.7,788.5 716.3,784.7 717.9,780.8 719.5,779.8 721.1,777.7 722.7,777.2 724.3,775.5 725.9,774.8 727.5,772.9 729.1,772.4 730.7,773.1 732.3,769.9 733.9,769.7 735.5,768.4 737.1,767.1 738.7,765.3 740.3,765.2 741.9,764.8 743.5,766.9 745.1,769.4 746.7,770.9 748.3,772.2 749.9,773.7 751.5,776.1 753.1,776.4 754.7,779.5 756.3,779.8 757.9,780.4 759.5,781.8 761.1,781.6 762.7,784.4 764.3,785.2 765.9,785.9 767.5,786.4 769.1,788.4 770.7,789.5 772.3,790.5 773.9,792.1 775.5,792.4 777.1,792.3 778.7,792.6 780.3,790.8 781.9,789.7 783.5,790.2 785.1,789.8 786.7,789.8 788.3,789.2 789.9,790.3 791.5,792.5 793.1,794.8 794.7,795.1 796.3,793.2 797.9,791.0 799.5,790.4 801.1,789.8 802.7,789.7 804.3,789.4 805.9,791.5 807.5,791.4 809.1,791.2 810.7,793.3 812.3,793.4 813.9,794.1 815.5,794.7 817.1,793.0 818.7,791.1 820.3,789.9 821.9,790.5 823.5,791.1 825.1,789.5 826.7,788.4 828.3,788.3 829.9,788.4 831.5,790.9 833.1,790.1 834.7,791.1 836.3,789.6 837.9,789.9 839.5,790.5 841.1,790.0 842.7,787.3 844.3,785.6 845.9,787.1 847.5,785.6 849.1,786.9 850.7,785.6 852.3,787.2 853.9,787.9 855.5,787.9 857.1,787.6 858.7,789.3 860.3,788.6 861.9,789.7 863.5,790.3 865.1,791.2 866.7,788.2 868.3,788.7 869.9,787.0 871.5,786.5 873.1,784.7 874.7,784.8 876.3,785.7 877.9,788.1 879.5,789.2 881.1,788.8 882.7,788.3 884.3,787.8 885.9,789.2 887.5,789.3 889.1,787.3 890.7,787.8 892.3,790.9 893.9,792.4 895.5,790.8 897.1,789.3 898.7,787.8 900.3,786.6 901.9,784.9 903.5,786.4 905.1,785.3 906.7,785.8 908.3,784.4 909.9,787.2 911.5,787.8 913.1,787.7 914.7,789.4 916.3,787.6 917.9,786.1 919.5,782.1 921.1,780.8 922.7,782.8 924.3,784.0 925.9,787.3 927.5,787.4 929.1,789.0 930.7,786.6 932.3,786.4 933.9,783.9 935.5,785.3 937.1,785.0 938.7,788.2 940.3,788.1 941.9,788.0 943.5,788.6 945.1,790.3 946.7,789.4 948.3,789.3 949.9,788.6 951.5,787.2 953.1,786.4 954.7,787.1 956.3,788.8 957.9,792.5 959.5,793.6 961.1,794.5 962.7,796.2 964.3,794.8 965.9,795.1 967.5,795.3 969.1,795.9 970.7,794.1 972.3,793.1 973.9,793.1 975.5,791.8 977.1,793.4 978.7,794.3 980.3,794.4 981.9,795.4 983.5,795.0 985.1,794.6 986.7,796.1 988.3,796.1 989.9,796.1 991.5,793.1 993.1,791.3 994.7,791.5 996.3,789.9 997.9,790.3 999.5,791.7 1001.1,789.9 1002.7,789.6 1004.3,791.0 1005.9,790.1 1007.5,789.0 1009.1,786.1 1010.7,785.8 1012.3,783.5 1013.9,782.9 1015.5,784.0 1017.1,784.5 1018.7,787.4 1020.3,789.8 1021.9,790.0 1023.5,788.9 1025.1,789.6 1025.3,789.3" fill="none" stroke="#0000ff" stroke-width="1.3" stroke-linejoin="round" stroke-dasharray="5.2,5.8"/>
<polyline points="621.9,835.6 623.5,833.7 625.1,834.1 626.7,832.9 628.3,832.4 629.9,830.9 631.5,832.6 633.1,829.7 634.7,829.0 636.3,827.7 637.9,827.5 639.5,825.9 641.1,827.6 642.7,827.9 644.3,825.9 645.9,828.1 647.5,828.6 649.1,831.6 650.7,832.3 652.3,835.8 653.9,835.3 655.5,837.7 657.1,838.5 658.7,840.6 660.3,841.0 661.9,843.2 663.5,846.6 665.1,847.0 666.7,849.8 668.3,850.4 669.9,852.7 671.5,858.5 673.1,863.3 674.7,865.2 676.3,867.2 677.9,868.9 679.5,869.2 681.1,869.8 682.7,869.5 684.3,870.4 685.9,869.8 687.5,870.1 689.1,870.2 690.7,868.4 692.3,868.8 693.9,868.8 695.5,868.0 697.1,863.8 698.7,861.7 700.3,859.5 701.9,857.9 703.5,853.8 705.1,851.4 706.7,846.9 708.3,844.5 709.9,840.8 711.5,839.3 713.1,832.7 714.7,827.4 716.3,821.5 717.9,818.7 719.5,814.3 721.1,811.5 722.7,810.4 724.3,810.1 725.9,809.5 727.5,808.1 729.1,806.2 730.7,807.0 732.3,805.6 733.9,806.4 735.5,806.4 737.1,804.3 738.7,802.9 740.3,800.8 741.9,802.9 743.5,803.4 745.1,805.8 746.7,805.9 748.3,807.6 749.9,806.4 751.5,807.2 753.1,809.3 754.7,809.4 756.3,810.2 757.9,811.9 759.5,813.1 761.1,816.9 762.7,819.0 764.3,823.0 765.9,825.1 767.5,826.3 769.1,829.7 770.7,833.6 772.3,833.7 773.9,831.9 775.5,828.6 777.1,827.3 778.7,827.2 780.3,826.3 781.9,825.5 783.5,825.6 785.1,825.4 786.7,826.6 788.3,826.8 789.9,825.9 791.5,824.5 793.1,826.2 794.7,826.3 796.3,827.0 797.9,826.1 799.5,825.5 801.1,826.8 802.7,825.1 804.3,826.4 805.9,826.3 807.5,825.5 809.1,827.1 810.7,825.5 812.3,827.7 813.9,826.6 815.5,827.3 817.1,827.2 818.7,827.6 820.3,827.4 821.9,824.8 823.5,824.4 825.1,825.4 826.7,823.7 828.3,825.0 829.9,824.4 831.5,824.5 833.1,823.6 834.7,823.0 836.3,824.6 837.9,824.0 839.5,822.2 841.1,822.6 842.7,824.2 844.3,823.6 845.9,824.2 847.5,825.4 849.1,824.7 850.7,826.5 852.3,826.1 853.9,825.5 855.5,823.6 857.1,823.0 858.7,823.1 860.3,823.8 861.9,822.6 863.5,824.3 865.1,827.1 866.7,827.5 868.3,825.6 869.9,827.5 871.5,827.4 873.1,827.2 874.7,826.3 876.3,826.5 877.9,826.1 879.5,827.2 881.1,825.6 882.7,825.3 884.3,826.5 885.9,825.8 887.5,825.2 889.1,824.3 890.7,822.3 892.3,822.5 893.9,824.0 895.5,825.0 897.1,825.4 898.7,824.8 900.3,825.4 901.9,822.7 903.5,822.0 905.1,821.4 906.7,820.7 908.3,820.7 909.9,820.2 911.5,820.9 913.1,820.0 914.7,821.3 916.3,822.4 917.9,820.9 919.5,821.0 921.1,820.5 922.7,820.9 924.3,820.3 925.9,820.6 927.5,819.6 929.1,821.5 930.7,820.1 932.3,821.2 933.9,823.3 935.5,823.9 937.1,826.8 938.7,827.8 940.3,826.9 941.9,827.8 943.5,828.1 945.1,830.7 946.7,829.5 948.3,829.5 949.9,828.5 951.5,827.3 953.1,827.7 954.7,827.4 956.3,829.4 957.9,830.2 959.5,832.7 961.1,835.1 962.7,834.0 964.3,835.3 965.9,832.6 967.5,833.5 969.1,833.3 970.7,834.0 972.3,833.9 973.9,832.8 975.5,833.5 977.1,834.0 978.7,833.5 980.3,834.3 981.9,834.7 983.5,833.9 985.1,834.7 986.7,833.5 988.3,834.0 989.9,834.9 991.5,833.7 993.1,832.7 994.7,831.9 996.3,831.9 997.9,831.3 999.5,831.5 1001.1,832.1 1002.7,831.9 1004.3,834.9 1005.9,835.0 1007.5,836.9 1009.1,839.4 1010.7,840.6 1012.3,843.1 1013.9,846.4 1015.5,851.5 1017.1,850.8 1018.7,852.0 1020.3,853.5 1021.9,853.0 1023.5,851.6 1025.1,854.0 1025.3,852.7" fill="none" stroke="#0000ff" stroke-width="1.3" stroke-linejoin="round" stroke-dasharray="5.2,5.8"/>
<polyline points="621.9,800.7 623.1,800.8 624.3,801.6 625.5,801.3 626.7,801.5 627.9,802.0 629.1,801.9 630.3,801.5 631.5,800.9 632.7,800.6 633.9,800.1 635.1,800.1 636.3,800.1 637.5,800.4 638.7,800.8 639.9,801.6 641.1,802.0 642.3,802.7 643.5,804.2 644.7,805.4 645.9,806.1 647.1,807.6 648.3,808.7 649.5,809.6 650.7,810.7 651.9,811.7 653.1,812.8 654.3,815.0 655.5,816.5 656.7,818.3 657.9,820.6 659.1,822.6 660.3,823.7 661.5,825.7 662.7,827.2 663.9,828.9 665.1,830.6 666.3,831.7 667.5,833.1 668.7,834.7 669.9,836.3 671.1,837.6 672.3,838.7 673.5,840.3 674.7,841.2 675.9,842.4 677.1,843.6 678.3,844.0 679.5,844.8 680.7,845.5 681.9,845.8 683.1,845.8 684.3,846.2 685.5,847.2 686.7,848.3 687.9,849.6 689.1,849.4 690.3,849.1 691.5,848.8 692.7,847.7 693.9,846.9 695.1,845.9 696.3,844.5 697.5,842.5 698.7,841.2 699.9,839.5 701.1,837.7 702.3,836.1 703.5,834.1 704.7,832.0 705.9,829.4 707.1,827.5 708.3,824.6 709.5,822.1 710.7,820.0 711.9,816.9 713.1,813.9 714.3,811.7 715.5,808.8 716.7,806.7 717.9,804.1 719.1,802.0 720.3,800.8 721.5,798.5 722.7,797.2 723.9,795.7 725.1,794.8 726.3,794.0 727.5,792.9 728.7,792.2 729.9,791.1 731.1,790.9 732.3,789.8 733.5,789.2 734.7,788.1 735.9,787.6 737.1,787.6 738.3,787.3 739.5,787.3 740.7,787.2 741.9,787.6 743.1,787.4 744.3,787.4 745.5,787.9 746.7,788.1 747.9,789.0 749.1,789.2 750.3,790.3 751.5,790.8 752.7,791.1 753.9,792.1 755.1,793.0 756.3,794.1 757.5,794.9 758.7,796.1 759.9,797.3 761.1,798.6 762.3,800.7 763.5,801.5 764.7,803.1 765.9,804.2 767.1,805.0 768.3,805.9 769.5,807.2 770.7,808.0 771.9,808.6 773.1,808.8 774.3,809.4 775.5,809.1 776.7,809.2 777.9,809.4 779.1,809.4 780.3,809.3 781.5,809.1 782.7,809.4 783.9,808.9 785.1,808.6 786.3,808.7 787.5,808.6 788.7,809.2 789.9,809.2 791.1,809.5 792.3,809.9 793.5,809.5 794.7,809.3 795.9,809.7 797.1,809.2 798.3,809.3 799.5,809.0 800.7,807.9 801.9,807.1 803.1,808.3 804.3,809.2 805.5,809.9 806.7,810.1 807.9,809.9 809.1,810.0 810.3,809.9 811.5,809.0 812.7,808.9 813.9,808.7 815.1,808.4 816.3,808.8 817.5,808.2 818.7,808.2 819.9,808.4 821.1,808.8 822.3,809.5 823.5,809.7 824.7,809.6 825.9,809.4 827.1,809.3 828.3,809.7 829.5,809.1 830.7,808.9 831.9,808.9 833.1,808.5 834.3,808.8 835.5,808.5 836.7,808.4 837.9,808.6 839.1,808.4 840.3,807.8 841.5,807.2 842.7,807.2 843.9,806.4 845.1,805.8 846.3,805.6 847.5,805.6 848.7,805.2 849.9,805.0 851.1,805.2 852.3,804.9 853.5,804.5 854.7,804.6 855.9,805.1 857.1,804.8 858.3,805.7 859.5,806.2 860.7,806.8 861.9,807.1 863.1,807.5 864.3,807.6 865.5,807.3 866.7,806.8 867.9,806.9 869.1,806.2 870.3,806.4 871.5,806.0 872.7,805.6 873.9,806.1 875.1,805.8 876.3,806.2 877.5,805.5 878.7,805.6 879.9,806.0 881.1,805.5 882.3,805.8 883.5,806.1 884.7,805.8 885.9,805.6 887.1,806.1 888.3,805.6 889.5,805.7 890.7,805.8 891.9,806.6 893.1,807.4 894.3,808.6 895.5,808.9 896.7,808.6 897.9,807.5 899.1,806.9 900.3,806.4 901.5,806.1 902.7,805.7 903.9,805.2 905.1,805.1 906.3,805.2 907.5,805.2 908.7,804.8 909.9,804.9 911.1,804.6 912.3,804.6 913.5,804.3 914.7,804.3 915.9,803.5 917.1,803.8 918.3,803.5 919.5,803.0 920.7,802.3 921.9,802.2 923.1,802.5 924.3,802.6 925.5,802.7 926.7,803.0 927.9,803.2 929.1,803.4 930.3,803.3 931.5,803.7 932.7,803.9 933.9,804.6 935.1,804.9 936.3,805.3 937.5,805.6 938.7,806.3 939.9,807.0 941.1,807.4 942.3,807.6 943.5,808.3 944.7,809.6 945.9,810.3 947.1,811.0 948.3,811.6 949.5,811.2 950.7,810.4 951.9,809.2 953.1,808.9 954.3,808.8 955.5,808.8 956.7,809.5 957.9,810.3 959.1,810.1 960.3,810.8 961.5,811.4 962.7,812.3 963.9,812.7 965.1,812.9 966.3,813.4 967.5,813.7 968.7,813.5 969.9,812.9 971.1,812.9 972.3,812.4 973.5,812.2 974.7,812.8 975.9,812.5 977.1,813.0 978.3,813.5 979.5,813.5 980.7,813.7 981.9,814.0 983.1,814.1 984.3,814.5 985.5,815.0 986.7,815.4 987.9,814.8 989.1,815.0 990.3,814.8 991.5,814.1 992.7,813.9 993.9,813.7 995.1,813.7 996.3,813.3 997.5,813.2 998.7,812.9 999.9,813.2 1001.1,813.6 1002.3,814.1 1003.5,814.9 1004.7,815.4 1005.9,816.0 1007.1,816.5 1008.3,816.7 1009.5,817.2 1010.7,817.4 1011.9,818.1 1013.1,818.8 1014.3,819.2 1015.5,819.2 1016.7,820.2 1017.9,820.1 1019.1,820.6 1020.3,821.3 1021.5,821.9 1022.7,822.9 1023.9,823.5 1025.1,823.9 1025.3,823.9" fill="none" stroke="#0000ff" stroke-width="2.4" stroke-linejoin="round"/>
<line x1="680.6" y1="739.5" x2="680.6" y2="925.2" stroke="#006400" stroke-width="2.4"/>
<line x1="707.6" y1="739.5" x2="707.6" y2="925.2" stroke="#006400" stroke-width="2.4"/>
</g>
<rect x="64.3" y="33.5" width="434.40" height="228.90" fill="none" stroke="#000" stroke-width="1.3"/>
<text transform="translate(70.1,30.6) scale(1.0,1.04)" font-size="28.5" font-weight="bold">A</text>
<rect x="606.7" y="33.5" width="434.50" height="228.90" fill="none" stroke="#000" stroke-width="1.3"/>
<text transform="translate(613.1,30.6) scale(0.92,1.04)" font-size="28.5" font-weight="bold">B</text>
<rect x="64.3" y="365.0" width="434.30" height="229.20" fill="none" stroke="#000" stroke-width="1.3"/>
<text transform="translate(70.4,362.1) scale(0.95,1.04)" font-size="28.5" font-weight="bold">C</text>
<rect x="606.8" y="365.0" width="434.30" height="229.20" fill="none" stroke="#000" stroke-width="1.3"/>
<text transform="translate(613.2,362.1) scale(0.93,1.04)" font-size="28.5" font-weight="bold">D</text>
<rect x="64.3" y="696.4" width="434.30" height="228.80" fill="none" stroke="#000" stroke-width="1.3"/>
<text transform="translate(70.1,693.5) scale(0.95,1.04)" font-size="28.5" font-weight="bold">E</text>
<rect x="606.8" y="696.4" width="434.30" height="228.80" fill="none" stroke="#000" stroke-width="1.3"/>
<text transform="translate(613.2,693.5) scale(0.92,1.04)" font-size="28.5" font-weight="bold">F</text>
<line x1="80.00" y1="262.4" x2="80.00" y2="270.0" stroke="#000" stroke-width="1.3"/>
<text x="80.00" y="289.4" font-size="12.2" font-weight="bold" text-anchor="middle">0</text>
<line x1="185.70" y1="262.4" x2="185.70" y2="270.0" stroke="#000" stroke-width="1.3"/>
<text x="185.70" y="289.4" font-size="12.2" font-weight="bold" text-anchor="middle">20</text>
<line x1="291.40" y1="262.4" x2="291.40" y2="270.0" stroke="#000" stroke-width="1.3"/>
<text x="291.40" y="289.4" font-size="12.2" font-weight="bold" text-anchor="middle">40</text>
<line x1="397.10" y1="262.4" x2="397.10" y2="270.0" stroke="#000" stroke-width="1.3"/>
<text x="397.10" y="289.4" font-size="12.2" font-weight="bold" text-anchor="middle">60</text>
<line x1="56.699999999999996" y1="254.00" x2="64.3" y2="254.00" stroke="#000" stroke-width="1.3"/>
<text transform="translate(47.00,254.00) rotate(-90)" font-size="12.2" font-weight="bold" text-anchor="middle">−1.0</text>
<line x1="56.699999999999996" y1="211.60" x2="64.3" y2="211.60" stroke="#000" stroke-width="1.3"/>
<text transform="translate(47.00,211.60) rotate(-90)" font-size="12.2" font-weight="bold" text-anchor="middle">−0.5</text>
<line x1="56.699999999999996" y1="169.20" x2="64.3" y2="169.20" stroke="#000" stroke-width="1.3"/>
<text transform="translate(47.00,169.20) rotate(-90)" font-size="12.2" font-weight="bold" text-anchor="middle">0.0</text>
<line x1="56.699999999999996" y1="126.80" x2="64.3" y2="126.80" stroke="#000" stroke-width="1.3"/>
<text transform="translate(47.00,126.80) rotate(-90)" font-size="12.2" font-weight="bold" text-anchor="middle">0.5</text>
<line x1="56.699999999999996" y1="84.40" x2="64.3" y2="84.40" stroke="#000" stroke-width="1.3"/>
<text transform="translate(47.00,84.40) rotate(-90)" font-size="12.2" font-weight="bold" text-anchor="middle">1.0</text>
<line x1="56.699999999999996" y1="42.00" x2="64.3" y2="42.00" stroke="#000" stroke-width="1.3"/>
<text transform="translate(47.00,42.00) rotate(-90)" font-size="12.2" font-weight="bold" text-anchor="middle">1.5</text>
<line x1="622.70" y1="262.4" x2="622.70" y2="270.0" stroke="#000" stroke-width="1.3"/>
<text x="622.70" y="289.4" font-size="12.2" font-weight="bold" text-anchor="middle">0</text>
<line x1="728.40" y1="262.4" x2="728.40" y2="270.0" stroke="#000" stroke-width="1.3"/>
<text x="728.40" y="289.4" font-size="12.2" font-weight="bold" text-anchor="middle">20</text>
<line x1="834.10" y1="262.4" x2="834.10" y2="270.0" stroke="#000" stroke-width="1.3"/>
<text x="834.10" y="289.4" font-size="12.2" font-weight="bold" text-anchor="middle">40</text>
<line x1="939.80" y1="262.4" x2="939.80" y2="270.0" stroke="#000" stroke-width="1.3"/>
<text x="939.80" y="289.4" font-size="12.2" font-weight="bold" text-anchor="middle">60</text>
<line x1="599.1" y1="254.00" x2="606.7" y2="254.00" stroke="#000" stroke-width="1.3"/>
<text transform="translate(589.40,254.00) rotate(-90)" font-size="12.2" font-weight="bold" text-anchor="middle">−0.15</text>
<line x1="599.1" y1="218.70" x2="606.7" y2="218.70" stroke="#000" stroke-width="1.3"/>
<line x1="599.1" y1="183.40" x2="606.7" y2="183.40" stroke="#000" stroke-width="1.3"/>
<text transform="translate(589.40,183.40) rotate(-90)" font-size="12.2" font-weight="bold" text-anchor="middle">−0.05</text>
<line x1="599.1" y1="148.10" x2="606.7" y2="148.10" stroke="#000" stroke-width="1.3"/>
<line x1="599.1" y1="112.80" x2="606.7" y2="112.80" stroke="#000" stroke-width="1.3"/>
<text transform="translate(589.40,112.80) rotate(-90)" font-size="12.2" font-weight="bold" text-anchor="middle">0.05</text>
<line x1="599.1" y1="77.50" x2="606.7" y2="77.50" stroke="#000" stroke-width="1.3"/>
<text transform="translate(589.40,77.50) rotate(-90)" font-size="12.2" font-weight="bold" text-anchor="middle">0.10</text>
<line x1="599.1" y1="42.20" x2="606.7" y2="42.20" stroke="#000" stroke-width="1.3"/>
<text transform="translate(589.40,42.20) rotate(-90)" font-size="12.2" font-weight="bold" text-anchor="middle">0.15</text>
<line x1="80.30" y1="594.2" x2="80.30" y2="601.8000000000001" stroke="#000" stroke-width="1.3"/>
<text x="80.30" y="621.2" font-size="12.2" font-weight="bold" text-anchor="middle">66</text>
<line x1="180.90" y1="594.2" x2="180.90" y2="601.8000000000001" stroke="#000" stroke-width="1.3"/>
<text x="180.90" y="621.2" font-size="12.2" font-weight="bold" text-anchor="middle">68</text>
<line x1="281.50" y1="594.2" x2="281.50" y2="601.8000000000001" stroke="#000" stroke-width="1.3"/>
<text x="281.50" y="621.2" font-size="12.2" font-weight="bold" text-anchor="middle">70</text>
<line x1="382.10" y1="594.2" x2="382.10" y2="601.8000000000001" stroke="#000" stroke-width="1.3"/>
<text x="382.10" y="621.2" font-size="12.2" font-weight="bold" text-anchor="middle">72</text>
<line x1="482.70" y1="594.2" x2="482.70" y2="601.8000000000001" stroke="#000" stroke-width="1.3"/>
<text x="482.70" y="621.2" font-size="12.2" font-weight="bold" text-anchor="middle">74</text>
<line x1="56.699999999999996" y1="564.30" x2="64.3" y2="564.30" stroke="#000" stroke-width="1.3"/>
<text transform="translate(47.00,564.30) rotate(-90)" font-size="12.2" font-weight="bold" text-anchor="middle">−0.4</text>
<line x1="56.699999999999996" y1="521.90" x2="64.3" y2="521.90" stroke="#000" stroke-width="1.3"/>
<text transform="translate(47.00,521.90) rotate(-90)" font-size="12.2" font-weight="bold" text-anchor="middle">−0.2</text>
<line x1="56.699999999999996" y1="479.50" x2="64.3" y2="479.50" stroke="#000" stroke-width="1.3"/>
<text transform="translate(47.00,479.50) rotate(-90)" font-size="12.2" font-weight="bold" text-anchor="middle">0.0</text>
<line x1="56.699999999999996" y1="437.10" x2="64.3" y2="437.10" stroke="#000" stroke-width="1.3"/>
<text transform="translate(47.00,437.10) rotate(-90)" font-size="12.2" font-weight="bold" text-anchor="middle">0.2</text>
<line x1="56.699999999999996" y1="394.70" x2="64.3" y2="394.70" stroke="#000" stroke-width="1.3"/>
<text transform="translate(47.00,394.70) rotate(-90)" font-size="12.2" font-weight="bold" text-anchor="middle">0.4</text>
<line x1="652.50" y1="594.2" x2="652.50" y2="601.8000000000001" stroke="#000" stroke-width="1.3"/>
<text x="652.50" y="621.2" font-size="12.2" font-weight="bold" text-anchor="middle">20</text>
<line x1="727.00" y1="594.2" x2="727.00" y2="601.8000000000001" stroke="#000" stroke-width="1.3"/>
<text x="727.00" y="621.2" font-size="12.2" font-weight="bold" text-anchor="middle">25</text>
<line x1="801.50" y1="594.2" x2="801.50" y2="601.8000000000001" stroke="#000" stroke-width="1.3"/>
<text x="801.50" y="621.2" font-size="12.2" font-weight="bold" text-anchor="middle">30</text>
<line x1="876.00" y1="594.2" x2="876.00" y2="601.8000000000001" stroke="#000" stroke-width="1.3"/>
<text x="876.00" y="621.2" font-size="12.2" font-weight="bold" text-anchor="middle">35</text>
<line x1="950.50" y1="594.2" x2="950.50" y2="601.8000000000001" stroke="#000" stroke-width="1.3"/>
<text x="950.50" y="621.2" font-size="12.2" font-weight="bold" text-anchor="middle">40</text>
<line x1="1025.00" y1="594.2" x2="1025.00" y2="601.8000000000001" stroke="#000" stroke-width="1.3"/>
<text x="1025.00" y="621.2" font-size="12.2" font-weight="bold" text-anchor="middle">45</text>
<line x1="599.1999999999999" y1="557.00" x2="606.8" y2="557.00" stroke="#000" stroke-width="1.3"/>
<text transform="translate(589.50,557.00) rotate(-90)" font-size="12.2" font-weight="bold" text-anchor="middle">−0.5</text>
<line x1="599.1999999999999" y1="508.50" x2="606.8" y2="508.50" stroke="#000" stroke-width="1.3"/>
<text transform="translate(589.50,508.50) rotate(-90)" font-size="12.2" font-weight="bold" text-anchor="middle">0.0</text>
<line x1="599.1999999999999" y1="460.00" x2="606.8" y2="460.00" stroke="#000" stroke-width="1.3"/>
<text transform="translate(589.50,460.00) rotate(-90)" font-size="12.2" font-weight="bold" text-anchor="middle">0.5</text>
<line x1="599.1999999999999" y1="411.50" x2="606.8" y2="411.50" stroke="#000" stroke-width="1.3"/>
<text transform="translate(589.50,411.50) rotate(-90)" font-size="12.2" font-weight="bold" text-anchor="middle">1.0</text>
<line x1="78.60" y1="925.2" x2="78.60" y2="932.8000000000001" stroke="#000" stroke-width="1.3"/>
<text x="78.60" y="952.2" font-size="12.2" font-weight="bold" text-anchor="middle">0</text>
<line x1="146.10" y1="925.2" x2="146.10" y2="932.8000000000001" stroke="#000" stroke-width="1.3"/>
<text x="146.10" y="952.2" font-size="12.2" font-weight="bold" text-anchor="middle">10</text>
<line x1="213.60" y1="925.2" x2="213.60" y2="932.8000000000001" stroke="#000" stroke-width="1.3"/>
<text x="213.60" y="952.2" font-size="12.2" font-weight="bold" text-anchor="middle">20</text>
<line x1="281.10" y1="925.2" x2="281.10" y2="932.8000000000001" stroke="#000" stroke-width="1.3"/>
<text x="281.10" y="952.2" font-size="12.2" font-weight="bold" text-anchor="middle">30</text>
<line x1="348.60" y1="925.2" x2="348.60" y2="932.8000000000001" stroke="#000" stroke-width="1.3"/>
<text x="348.60" y="952.2" font-size="12.2" font-weight="bold" text-anchor="middle">40</text>
<line x1="416.10" y1="925.2" x2="416.10" y2="932.8000000000001" stroke="#000" stroke-width="1.3"/>
<text x="416.10" y="952.2" font-size="12.2" font-weight="bold" text-anchor="middle">50</text>
<line x1="483.60" y1="925.2" x2="483.60" y2="932.8000000000001" stroke="#000" stroke-width="1.3"/>
<text x="483.60" y="952.2" font-size="12.2" font-weight="bold" text-anchor="middle">60</text>
<line x1="56.699999999999996" y1="899.10" x2="64.3" y2="899.10" stroke="#000" stroke-width="1.3"/>
<text transform="translate(47.00,899.10) rotate(-90)" font-size="12.2" font-weight="bold" text-anchor="middle">−2</text>
<line x1="56.699999999999996" y1="845.30" x2="64.3" y2="845.30" stroke="#000" stroke-width="1.3"/>
<text transform="translate(47.00,845.30) rotate(-90)" font-size="12.2" font-weight="bold" text-anchor="middle">−1</text>
<line x1="56.699999999999996" y1="791.50" x2="64.3" y2="791.50" stroke="#000" stroke-width="1.3"/>
<text transform="translate(47.00,791.50) rotate(-90)" font-size="12.2" font-weight="bold" text-anchor="middle">0</text>
<line x1="56.699999999999996" y1="737.70" x2="64.3" y2="737.70" stroke="#000" stroke-width="1.3"/>
<text transform="translate(47.00,737.70) rotate(-90)" font-size="12.2" font-weight="bold" text-anchor="middle">1</text>
<line x1="621.00" y1="925.2" x2="621.00" y2="932.8000000000001" stroke="#000" stroke-width="1.3"/>
<text x="621.00" y="952.2" font-size="12.2" font-weight="bold" text-anchor="middle">0</text>
<line x1="688.50" y1="925.2" x2="688.50" y2="932.8000000000001" stroke="#000" stroke-width="1.3"/>
<text x="688.50" y="952.2" font-size="12.2" font-weight="bold" text-anchor="middle">10</text>
<line x1="756.00" y1="925.2" x2="756.00" y2="932.8000000000001" stroke="#000" stroke-width="1.3"/>
<text x="756.00" y="952.2" font-size="12.2" font-weight="bold" text-anchor="middle">20</text>
<line x1="823.50" y1="925.2" x2="823.50" y2="932.8000000000001" stroke="#000" stroke-width="1.3"/>
<text x="823.50" y="952.2" font-size="12.2" font-weight="bold" text-anchor="middle">30</text>
<line x1="891.00" y1="925.2" x2="891.00" y2="932.8000000000001" stroke="#000" stroke-width="1.3"/>
<text x="891.00" y="952.2" font-size="12.2" font-weight="bold" text-anchor="middle">40</text>
<line x1="958.50" y1="925.2" x2="958.50" y2="932.8000000000001" stroke="#000" stroke-width="1.3"/>
<text x="958.50" y="952.2" font-size="12.2" font-weight="bold" text-anchor="middle">50</text>
<line x1="1026.00" y1="925.2" x2="1026.00" y2="932.8000000000001" stroke="#000" stroke-width="1.3"/>
<text x="1026.00" y="952.2" font-size="12.2" font-weight="bold" text-anchor="middle">60</text>
<line x1="599.1999999999999" y1="917.00" x2="606.8" y2="917.00" stroke="#000" stroke-width="1.3"/>
<text transform="translate(589.50,917.00) rotate(-90)" font-size="12.2" font-weight="bold" text-anchor="middle">−0.15</text>
<line x1="599.1999999999999" y1="881.50" x2="606.8" y2="881.50" stroke="#000" stroke-width="1.3"/>
<line x1="599.1999999999999" y1="846.00" x2="606.8" y2="846.00" stroke="#000" stroke-width="1.3"/>
<text transform="translate(589.50,846.00) rotate(-90)" font-size="12.2" font-weight="bold" text-anchor="middle">−0.05</text>
<line x1="599.1999999999999" y1="810.50" x2="606.8" y2="810.50" stroke="#000" stroke-width="1.3"/>
<line x1="599.1999999999999" y1="775.00" x2="606.8" y2="775.00" stroke="#000" stroke-width="1.3"/>
<text transform="translate(589.50,775.00) rotate(-90)" font-size="12.2" font-weight="bold" text-anchor="middle">0.05</text>
<line x1="599.1999999999999" y1="739.50" x2="606.8" y2="739.50" stroke="#000" stroke-width="1.3"/>
<text transform="translate(589.50,739.50) rotate(-90)" font-size="12.2" font-weight="bold" text-anchor="middle">0.10</text>
<line x1="599.1999999999999" y1="704.00" x2="606.8" y2="704.00" stroke="#000" stroke-width="1.3"/>
<text transform="translate(589.50,704.00) rotate(-90)" font-size="12.2" font-weight="bold" text-anchor="middle">0.15</text>
<text x="281.4" y="318.6" font-size="18.5" font-weight="bold" text-anchor="middle">Time (seconds)</text>
<text transform="translate(18.2,146.7) rotate(-90)" font-size="18.6" font-weight="bold" text-anchor="middle">% Optical Change</text>
<text x="226.9" y="250.7" font-size="18.3" font-weight="bold">Region 1</text>
<text x="229.0" y="903.6" font-size="18.3" font-weight="bold">Region 2</text>
<text x="82.6" y="849.9" font-size="12.2" font-weight="bold">Stim</text>
<g stroke="#006400" stroke-width="2.1" stroke-linecap="round" fill="none"><line x1="112" y1="845.5" x2="137.5" y2="845.5"/><polyline points="127.7,839.7 137.7,845.5 127.7,851.2"/></g>
<line x1="185.9" y1="50.55" x2="239.0" y2="50.55" stroke="#000" stroke-width="4" stroke-linecap="round"/>
<text x="245.1" y="54.4" font-size="15.3" font-weight="bold">Raw</text>
<line x1="318.2" y1="50.55" x2="371.3" y2="50.55" stroke="#f00" stroke-width="4" stroke-linecap="round"/>
<text x="380.8" y="54.4" font-size="15.3" font-weight="bold">Level</text>
<line x1="702.4" y1="56.5" x2="754.9" y2="56.5" stroke="#00f" stroke-width="4" stroke-linecap="round"/>
<text x="764.5" y="60.3" font-size="15.3" font-weight="bold">Slope</text>
<line x1="181.0" y1="383.8" x2="231.0" y2="383.8" stroke="#000" stroke-width="4" stroke-linecap="round"/>
<text x="240.3" y="387.5" font-size="15.3" font-weight="bold">Raw</text>
<line x1="331.4" y1="383.8" x2="382.3" y2="383.8" stroke="#a020f0" stroke-width="4" stroke-linecap="round"/>
<text x="391.9" y="387.5" font-size="15.3" font-weight="bold">Heart</text>
<line x1="667.2" y1="383.0" x2="712.1" y2="383.0" stroke="#000" stroke-width="4" stroke-linecap="round"/>
<text x="720.2" y="388.2" font-size="15.3" font-weight="bold">Raw</text>
<line x1="786.5" y1="383.0" x2="831.1" y2="383.0" stroke="#d2691e" stroke-width="4" stroke-linecap="round"/>
<text x="839.5" y="386.6" font-size="15.3" font-weight="bold">Respiration</text>
<line x1="149.4" y1="710.9" x2="199.9" y2="710.9" stroke="#000" stroke-width="4" stroke-linecap="round"/>
<text x="206.3" y="715.3" font-size="15.3" font-weight="bold">Raw</text>
<line x1="284.9" y1="711.0" x2="335.6" y2="711.0" stroke="#f00" stroke-width="4" stroke-linecap="round"/>
<text x="346.4" y="716.4" font-size="15.3" font-weight="bold">Level</text>
<line x1="762.9" y1="718.8" x2="817.3" y2="718.8" stroke="#00f" stroke-width="4" stroke-linecap="round"/>
<text x="823.4" y="722.7" font-size="15.3" font-weight="bold">Slope</text></svg></body></html>
